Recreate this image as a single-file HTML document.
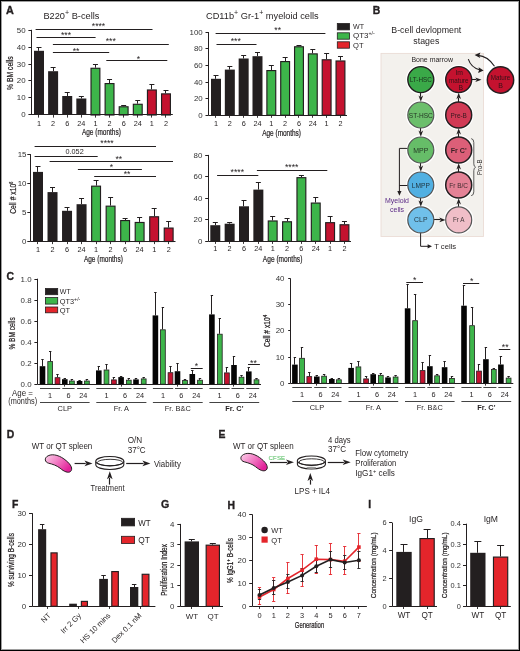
<!DOCTYPE html>
<html><head><meta charset="utf-8"><title>Figure</title>
<style>
html,body{margin:0;padding:0;background:#fff;}
body{width:520px;height:651px;overflow:hidden;}
svg{display:block;font-family:"Liberation Sans", sans-serif;will-change:transform;}
.c{stroke:#231f20;stroke-width:0.22px;}
.pl{stroke:#231f20;stroke-width:0.35px;}
</style></head><body>
<svg width="520" height="651" viewBox="0 0 520 651">
<defs>
<linearGradient id="sg1" x1="0" y1="0" x2="1" y2="0.6"><stop offset="0" stop-color="#fbd3ea"/><stop offset="0.5" stop-color="#f27cc4"/><stop offset="1" stop-color="#e2219a"/></linearGradient>
<linearGradient id="sg2" x1="0" y1="0" x2="1" y2="0.6"><stop offset="0" stop-color="#fbd3ea"/><stop offset="0.5" stop-color="#f27cc4"/><stop offset="1" stop-color="#e2219a"/></linearGradient>
</defs>
<rect x="0" y="0" width="520" height="651" fill="#fff"/>
<g fill="#231f20">
<text x="6.1" y="14.2" font-size="10.8" font-weight="bold" class="pl">A</text>
<line x1="31.5" y1="29.8" x2="31.5" y2="115" stroke="#231f20" stroke-width="1"/>
<line x1="28.4" y1="114.5" x2="31.7" y2="114.5" stroke="#231f20" stroke-width="1"/>
<text x="25.6" y="117.24" font-size="7.9" text-anchor="end" fill="#333">0</text>
<line x1="28.4" y1="97.5" x2="31.7" y2="97.5" stroke="#231f20" stroke-width="1"/>
<text x="25.6" y="100.34" font-size="7.9" text-anchor="end" fill="#333">10</text>
<line x1="28.4" y1="80.5" x2="31.7" y2="80.5" stroke="#231f20" stroke-width="1"/>
<text x="25.6" y="83.44" font-size="7.9" text-anchor="end" fill="#333">20</text>
<line x1="28.4" y1="64.5" x2="31.7" y2="64.5" stroke="#231f20" stroke-width="1"/>
<text x="25.6" y="66.54" font-size="7.9" text-anchor="end" fill="#333">30</text>
<line x1="28.4" y1="47.5" x2="31.7" y2="47.5" stroke="#231f20" stroke-width="1"/>
<text x="25.6" y="49.64" font-size="7.9" text-anchor="end" fill="#333">40</text>
<line x1="28.4" y1="30.5" x2="31.7" y2="30.5" stroke="#231f20" stroke-width="1"/>
<text x="25.6" y="32.74" font-size="7.9" text-anchor="end" fill="#333">50</text>
<line x1="38.5" y1="50.8" x2="38.5" y2="47.5" stroke="#231f20" stroke-width="1"/>
<line x1="36.5" y1="47.5" x2="41.5" y2="47.5" stroke="#231f20" stroke-width="1"/>
<rect x="34" y="50.8" width="10" height="64.2" fill="#231f20"/>
<line x1="38.5" y1="115" x2="38.5" y2="117.6" stroke="#231f20" stroke-width="0.9"/>
<text x="39" y="126.3" font-size="7.3" text-anchor="middle">1</text>
<line x1="53.5" y1="71.2" x2="53.5" y2="67.3" stroke="#231f20" stroke-width="1"/>
<line x1="50.61" y1="67.5" x2="55.61" y2="67.5" stroke="#231f20" stroke-width="1"/>
<rect x="48.11" y="71.2" width="10" height="43.8" fill="#231f20"/>
<line x1="53.5" y1="115" x2="53.5" y2="117.6" stroke="#231f20" stroke-width="0.9"/>
<text x="53.11" y="126.3" font-size="7.3" text-anchor="middle">2</text>
<line x1="67.5" y1="96" x2="67.5" y2="92.3" stroke="#231f20" stroke-width="1"/>
<line x1="64.72" y1="92.5" x2="69.72" y2="92.5" stroke="#231f20" stroke-width="1"/>
<rect x="62.22" y="96" width="10" height="19" fill="#231f20"/>
<line x1="67.5" y1="115" x2="67.5" y2="117.6" stroke="#231f20" stroke-width="0.9"/>
<text x="67.22" y="126.3" font-size="7.3" text-anchor="middle">6</text>
<line x1="81.5" y1="98.5" x2="81.5" y2="96.2" stroke="#231f20" stroke-width="1"/>
<line x1="78.83" y1="96.5" x2="83.83" y2="96.5" stroke="#231f20" stroke-width="1"/>
<rect x="76.33" y="98.5" width="10" height="16.5" fill="#231f20"/>
<line x1="81.5" y1="115" x2="81.5" y2="117.6" stroke="#231f20" stroke-width="0.9"/>
<text x="81.33" y="126.3" font-size="7.3" text-anchor="middle">24</text>
<line x1="95.5" y1="67.7" x2="95.5" y2="64.4" stroke="#231f20" stroke-width="1"/>
<line x1="92.94" y1="64.5" x2="97.94" y2="64.5" stroke="#231f20" stroke-width="1"/>
<rect x="91.02" y="68.28" width="8.85" height="46.72" fill="#3db54a" stroke="#231f20" stroke-width="1.15"/>
<line x1="95.5" y1="115" x2="95.5" y2="117.6" stroke="#231f20" stroke-width="0.9"/>
<text x="95.44" y="126.3" font-size="7.3" text-anchor="middle">1</text>
<line x1="109.5" y1="83" x2="109.5" y2="79.2" stroke="#231f20" stroke-width="1"/>
<line x1="107.05" y1="79.5" x2="112.05" y2="79.5" stroke="#231f20" stroke-width="1"/>
<rect x="105.12" y="83.58" width="8.85" height="31.43" fill="#3db54a" stroke="#231f20" stroke-width="1.15"/>
<line x1="109.5" y1="115" x2="109.5" y2="117.6" stroke="#231f20" stroke-width="0.9"/>
<text x="109.55" y="126.3" font-size="7.3" text-anchor="middle">2</text>
<line x1="123.5" y1="106.2" x2="123.5" y2="105.6" stroke="#231f20" stroke-width="1"/>
<line x1="121.16" y1="105.5" x2="126.16" y2="105.5" stroke="#231f20" stroke-width="1"/>
<rect x="119.23" y="106.78" width="8.85" height="8.22" fill="#3db54a" stroke="#231f20" stroke-width="1.15"/>
<line x1="123.5" y1="115" x2="123.5" y2="117.6" stroke="#231f20" stroke-width="0.9"/>
<text x="123.66" y="126.3" font-size="7.3" text-anchor="middle">6</text>
<line x1="137.5" y1="103.7" x2="137.5" y2="101" stroke="#231f20" stroke-width="1"/>
<line x1="135.27" y1="100.5" x2="140.27" y2="100.5" stroke="#231f20" stroke-width="1"/>
<rect x="133.34" y="104.28" width="8.85" height="10.72" fill="#3db54a" stroke="#231f20" stroke-width="1.15"/>
<line x1="137.5" y1="115" x2="137.5" y2="117.6" stroke="#231f20" stroke-width="0.9"/>
<text x="137.77" y="126.3" font-size="7.3" text-anchor="middle">24</text>
<line x1="151.5" y1="89.4" x2="151.5" y2="85" stroke="#231f20" stroke-width="1"/>
<line x1="149.38" y1="84.5" x2="154.38" y2="84.5" stroke="#231f20" stroke-width="1"/>
<rect x="147.45" y="89.98" width="8.85" height="25.02" fill="#c4122f" stroke="#231f20" stroke-width="1.15"/>
<line x1="151.5" y1="115" x2="151.5" y2="117.6" stroke="#231f20" stroke-width="0.9"/>
<text x="151.88" y="126.3" font-size="7.3" text-anchor="middle">1</text>
<line x1="165.5" y1="93.3" x2="165.5" y2="90.4" stroke="#231f20" stroke-width="1"/>
<line x1="163.49" y1="90.5" x2="168.49" y2="90.5" stroke="#231f20" stroke-width="1"/>
<rect x="161.56" y="93.88" width="8.85" height="21.13" fill="#c4122f" stroke="#231f20" stroke-width="1.15"/>
<line x1="165.5" y1="115" x2="165.5" y2="117.6" stroke="#231f20" stroke-width="0.9"/>
<text x="165.99" y="126.3" font-size="7.3" text-anchor="middle">2</text>
<line x1="31.7" y1="114.5" x2="172.8" y2="114.5" stroke="#231f20" stroke-width="1"/>
<text x="101.4" y="135.4" font-size="8.8" text-anchor="middle" textLength="39" lengthAdjust="spacingAndGlyphs" class="c">Age (months)</text>
<line x1="35.6" y1="29.5" x2="152.5" y2="29.5" stroke="#231f20" stroke-width="1"/>
<text x="98.5" y="29.2" font-size="8.7" text-anchor="middle" textLength="13.4" lengthAdjust="spacingAndGlyphs">****</text>
<line x1="36.5" y1="37.5" x2="95.6" y2="37.5" stroke="#231f20" stroke-width="1"/>
<text x="66" y="38.4" font-size="8.7" text-anchor="middle" textLength="10.05" lengthAdjust="spacingAndGlyphs">***</text>
<line x1="52.9" y1="44.5" x2="168.8" y2="44.5" stroke="#231f20" stroke-width="1"/>
<text x="110.8" y="44.2" font-size="8.7" text-anchor="middle" textLength="10.05" lengthAdjust="spacingAndGlyphs">***</text>
<line x1="52.9" y1="52.5" x2="109.2" y2="52.5" stroke="#231f20" stroke-width="1"/>
<text x="76" y="53.8" font-size="8.7" text-anchor="middle" textLength="6.7" lengthAdjust="spacingAndGlyphs">**</text>
<line x1="106.3" y1="60.5" x2="167.3" y2="60.5" stroke="#231f20" stroke-width="1"/>
<text x="138.5" y="61.6" font-size="8.7" text-anchor="middle" textLength="3.35" lengthAdjust="spacingAndGlyphs">*</text>
<text x="43.4" y="18.7" font-size="9.2" textLength="56" lengthAdjust="spacingAndGlyphs">B220<tspan font-size="7" dy="-3.4">+</tspan><tspan dy="3.4"> B-cells</tspan></text>
<text x="12.8" y="73.2" font-size="8.2" text-anchor="middle" textLength="33.5" lengthAdjust="spacingAndGlyphs" transform="rotate(-90 12.8 73.2)" class="c">% BM cells</text>
<line x1="208.5" y1="32" x2="208.5" y2="115.2" stroke="#231f20" stroke-width="1"/>
<line x1="205.5" y1="115.5" x2="208.8" y2="115.5" stroke="#231f20" stroke-width="1"/>
<text x="202.7" y="117.64" font-size="7.9" text-anchor="end" fill="#333">0</text>
<line x1="205.5" y1="98.5" x2="208.8" y2="98.5" stroke="#231f20" stroke-width="1"/>
<text x="202.7" y="101.09" font-size="7.9" text-anchor="end" fill="#333">20</text>
<line x1="205.5" y1="82.5" x2="208.8" y2="82.5" stroke="#231f20" stroke-width="1"/>
<text x="202.7" y="84.54" font-size="7.9" text-anchor="end" fill="#333">40</text>
<line x1="205.5" y1="65.5" x2="208.8" y2="65.5" stroke="#231f20" stroke-width="1"/>
<text x="202.7" y="67.99" font-size="7.9" text-anchor="end" fill="#333">60</text>
<line x1="205.5" y1="48.5" x2="208.8" y2="48.5" stroke="#231f20" stroke-width="1"/>
<text x="202.7" y="51.44" font-size="7.9" text-anchor="end" fill="#333">80</text>
<line x1="205.5" y1="32.5" x2="208.8" y2="32.5" stroke="#231f20" stroke-width="1"/>
<text x="202.7" y="34.89" font-size="7.9" text-anchor="end" fill="#333">100</text>
<line x1="215.5" y1="78.8" x2="215.5" y2="75.8" stroke="#231f20" stroke-width="1"/>
<line x1="213.5" y1="75.5" x2="218.5" y2="75.5" stroke="#231f20" stroke-width="1"/>
<rect x="211" y="78.8" width="10" height="36.4" fill="#231f20"/>
<line x1="215.5" y1="115.2" x2="215.5" y2="117.8" stroke="#231f20" stroke-width="0.9"/>
<text x="216" y="126" font-size="7.3" text-anchor="middle">1</text>
<line x1="229.5" y1="69.6" x2="229.5" y2="66.7" stroke="#231f20" stroke-width="1"/>
<line x1="227.33" y1="66.5" x2="232.33" y2="66.5" stroke="#231f20" stroke-width="1"/>
<rect x="224.83" y="69.6" width="10" height="45.6" fill="#231f20"/>
<line x1="229.5" y1="115.2" x2="229.5" y2="117.8" stroke="#231f20" stroke-width="0.9"/>
<text x="229.83" y="126" font-size="7.3" text-anchor="middle">2</text>
<line x1="243.5" y1="58.5" x2="243.5" y2="55.4" stroke="#231f20" stroke-width="1"/>
<line x1="241.16" y1="55.5" x2="246.16" y2="55.5" stroke="#231f20" stroke-width="1"/>
<rect x="238.66" y="58.5" width="10" height="56.7" fill="#231f20"/>
<line x1="243.5" y1="115.2" x2="243.5" y2="117.8" stroke="#231f20" stroke-width="0.9"/>
<text x="243.66" y="126" font-size="7.3" text-anchor="middle">6</text>
<line x1="257.5" y1="56.2" x2="257.5" y2="52.3" stroke="#231f20" stroke-width="1"/>
<line x1="254.99" y1="52.5" x2="259.99" y2="52.5" stroke="#231f20" stroke-width="1"/>
<rect x="252.49" y="56.2" width="10" height="59" fill="#231f20"/>
<line x1="257.5" y1="115.2" x2="257.5" y2="117.8" stroke="#231f20" stroke-width="0.9"/>
<text x="257.49" y="126" font-size="7.3" text-anchor="middle">24</text>
<line x1="271.5" y1="70" x2="271.5" y2="65.8" stroke="#231f20" stroke-width="1"/>
<line x1="268.82" y1="65.5" x2="273.82" y2="65.5" stroke="#231f20" stroke-width="1"/>
<rect x="266.89" y="70.58" width="8.85" height="44.62" fill="#3db54a" stroke="#231f20" stroke-width="1.15"/>
<line x1="271.5" y1="115.2" x2="271.5" y2="117.8" stroke="#231f20" stroke-width="0.9"/>
<text x="271.32" y="126" font-size="7.3" text-anchor="middle">1</text>
<line x1="285.5" y1="61" x2="285.5" y2="58" stroke="#231f20" stroke-width="1"/>
<line x1="282.65" y1="57.5" x2="287.65" y2="57.5" stroke="#231f20" stroke-width="1"/>
<rect x="280.72" y="61.58" width="8.85" height="53.62" fill="#3db54a" stroke="#231f20" stroke-width="1.15"/>
<line x1="285.5" y1="115.2" x2="285.5" y2="117.8" stroke="#231f20" stroke-width="0.9"/>
<text x="285.15" y="126" font-size="7.3" text-anchor="middle">2</text>
<line x1="298.5" y1="46.2" x2="298.5" y2="45.6" stroke="#231f20" stroke-width="1"/>
<line x1="296.48" y1="45.5" x2="301.48" y2="45.5" stroke="#231f20" stroke-width="1"/>
<rect x="294.56" y="46.78" width="8.85" height="68.42" fill="#3db54a" stroke="#231f20" stroke-width="1.15"/>
<line x1="298.5" y1="115.2" x2="298.5" y2="117.8" stroke="#231f20" stroke-width="0.9"/>
<text x="298.98" y="126" font-size="7.3" text-anchor="middle">6</text>
<line x1="312.5" y1="53.3" x2="312.5" y2="49.4" stroke="#231f20" stroke-width="1"/>
<line x1="310.31" y1="49.5" x2="315.31" y2="49.5" stroke="#231f20" stroke-width="1"/>
<rect x="308.38" y="53.88" width="8.85" height="61.33" fill="#3db54a" stroke="#231f20" stroke-width="1.15"/>
<line x1="312.5" y1="115.2" x2="312.5" y2="117.8" stroke="#231f20" stroke-width="0.9"/>
<text x="312.81" y="126" font-size="7.3" text-anchor="middle">24</text>
<line x1="326.5" y1="59.2" x2="326.5" y2="53.3" stroke="#231f20" stroke-width="1"/>
<line x1="324.14" y1="53.5" x2="329.14" y2="53.5" stroke="#231f20" stroke-width="1"/>
<rect x="322.21" y="59.78" width="8.85" height="55.42" fill="#c4122f" stroke="#231f20" stroke-width="1.15"/>
<line x1="326.5" y1="115.2" x2="326.5" y2="117.8" stroke="#231f20" stroke-width="0.9"/>
<text x="326.64" y="126" font-size="7.3" text-anchor="middle">1</text>
<line x1="340.5" y1="60.4" x2="340.5" y2="56.5" stroke="#231f20" stroke-width="1"/>
<line x1="337.97" y1="56.5" x2="342.97" y2="56.5" stroke="#231f20" stroke-width="1"/>
<rect x="336.05" y="60.98" width="8.85" height="54.23" fill="#c4122f" stroke="#231f20" stroke-width="1.15"/>
<line x1="340.5" y1="115.2" x2="340.5" y2="117.8" stroke="#231f20" stroke-width="0.9"/>
<text x="340.47" y="126" font-size="7.3" text-anchor="middle">2</text>
<line x1="208.8" y1="115.5" x2="347" y2="115.5" stroke="#231f20" stroke-width="1"/>
<text x="281.6" y="136" font-size="8.8" text-anchor="middle" textLength="38.8" lengthAdjust="spacingAndGlyphs" class="c">Age (months)</text>
<line x1="215.6" y1="33.5" x2="325.4" y2="33.5" stroke="#231f20" stroke-width="1"/>
<text x="277.7" y="33.1" font-size="8.7" text-anchor="middle" textLength="6.7" lengthAdjust="spacingAndGlyphs">**</text>
<line x1="216.5" y1="44.5" x2="256.5" y2="44.5" stroke="#231f20" stroke-width="1"/>
<text x="235.8" y="43.8" font-size="8.7" text-anchor="middle" textLength="10.05" lengthAdjust="spacingAndGlyphs">***</text>
<text x="206" y="18.7" font-size="9.2" textLength="112.7" lengthAdjust="spacingAndGlyphs">CD11b<tspan font-size="7" dy="-3.4">+</tspan><tspan dy="3.4"> Gr-1</tspan><tspan font-size="7" dy="-3.4">+</tspan><tspan dy="3.4"> myeloid cells</tspan></text>
<rect x="337.3" y="23.5" width="12.2" height="6.4" fill="#231f20" stroke="#231f20" stroke-width="0.8"/>
<rect x="337.3" y="32.8" width="12.2" height="6.4" fill="#3db54a" stroke="#231f20" stroke-width="0.8"/>
<rect x="337.3" y="41.8" width="12.2" height="6.4" fill="#e4252b" stroke="#231f20" stroke-width="0.8"/>
<text x="353" y="29.3" font-size="8" textLength="11" lengthAdjust="spacingAndGlyphs">WT</text>
<text x="353" y="38.4" font-size="8">QT3<tspan font-size="5.2" dy="-3">+/-</tspan></text>
<text x="353" y="47.5" font-size="8" textLength="10.5" lengthAdjust="spacingAndGlyphs">QT</text>
<line x1="30.5" y1="154.1" x2="30.5" y2="241.5" stroke="#231f20" stroke-width="1"/>
<line x1="27.3" y1="241.5" x2="30.6" y2="241.5" stroke="#231f20" stroke-width="1"/>
<text x="26.5" y="243.94" font-size="7.9" text-anchor="end" fill="#333">0</text>
<line x1="27.3" y1="212.5" x2="30.6" y2="212.5" stroke="#231f20" stroke-width="1"/>
<text x="26.5" y="214.84" font-size="7.9" text-anchor="end" fill="#333">5</text>
<line x1="27.3" y1="183.5" x2="30.6" y2="183.5" stroke="#231f20" stroke-width="1"/>
<text x="26.5" y="185.74" font-size="7.9" text-anchor="end" fill="#333">10</text>
<line x1="27.3" y1="154.5" x2="30.6" y2="154.5" stroke="#231f20" stroke-width="1"/>
<text x="26.5" y="156.64" font-size="7.9" text-anchor="end" fill="#333">15</text>
<line x1="37.5" y1="171.9" x2="37.5" y2="166.5" stroke="#231f20" stroke-width="1"/>
<line x1="35.5" y1="166.5" x2="40.5" y2="166.5" stroke="#231f20" stroke-width="1"/>
<rect x="33" y="171.9" width="10" height="69.6" fill="#231f20"/>
<line x1="37.5" y1="241.5" x2="37.5" y2="244.1" stroke="#231f20" stroke-width="0.9"/>
<text x="38" y="252" font-size="7.3" text-anchor="middle">1</text>
<line x1="52.5" y1="192.1" x2="52.5" y2="187.3" stroke="#231f20" stroke-width="1"/>
<line x1="50.02" y1="187.5" x2="55.02" y2="187.5" stroke="#231f20" stroke-width="1"/>
<rect x="47.52" y="192.1" width="10" height="49.4" fill="#231f20"/>
<line x1="52.5" y1="241.5" x2="52.5" y2="244.1" stroke="#231f20" stroke-width="0.9"/>
<text x="52.52" y="252" font-size="7.3" text-anchor="middle">2</text>
<line x1="67.5" y1="210.8" x2="67.5" y2="207.9" stroke="#231f20" stroke-width="1"/>
<line x1="64.54" y1="207.5" x2="69.54" y2="207.5" stroke="#231f20" stroke-width="1"/>
<rect x="62.04" y="210.8" width="10" height="30.7" fill="#231f20"/>
<line x1="67.5" y1="241.5" x2="67.5" y2="244.1" stroke="#231f20" stroke-width="0.9"/>
<text x="67.04" y="252" font-size="7.3" text-anchor="middle">6</text>
<line x1="81.5" y1="204.2" x2="81.5" y2="198.5" stroke="#231f20" stroke-width="1"/>
<line x1="79.06" y1="198.5" x2="84.06" y2="198.5" stroke="#231f20" stroke-width="1"/>
<rect x="76.56" y="204.2" width="10" height="37.3" fill="#231f20"/>
<line x1="81.5" y1="241.5" x2="81.5" y2="244.1" stroke="#231f20" stroke-width="0.9"/>
<text x="81.56" y="252" font-size="7.3" text-anchor="middle">24</text>
<line x1="96.5" y1="185.6" x2="96.5" y2="180.4" stroke="#231f20" stroke-width="1"/>
<line x1="93.58" y1="180.5" x2="98.58" y2="180.5" stroke="#231f20" stroke-width="1"/>
<rect x="91.66" y="186.17" width="8.85" height="55.33" fill="#3db54a" stroke="#231f20" stroke-width="1.15"/>
<line x1="96.5" y1="241.5" x2="96.5" y2="244.1" stroke="#231f20" stroke-width="0.9"/>
<text x="96.08" y="252" font-size="7.3" text-anchor="middle">1</text>
<line x1="110.5" y1="205.6" x2="110.5" y2="197.9" stroke="#231f20" stroke-width="1"/>
<line x1="108.1" y1="197.5" x2="113.1" y2="197.5" stroke="#231f20" stroke-width="1"/>
<rect x="106.17" y="206.17" width="8.85" height="35.33" fill="#3db54a" stroke="#231f20" stroke-width="1.15"/>
<line x1="110.5" y1="241.5" x2="110.5" y2="244.1" stroke="#231f20" stroke-width="0.9"/>
<text x="110.6" y="252" font-size="7.3" text-anchor="middle">2</text>
<line x1="125.5" y1="220" x2="125.5" y2="219" stroke="#231f20" stroke-width="1"/>
<line x1="122.62" y1="218.5" x2="127.62" y2="218.5" stroke="#231f20" stroke-width="1"/>
<rect x="120.7" y="220.57" width="8.85" height="20.93" fill="#3db54a" stroke="#231f20" stroke-width="1.15"/>
<line x1="125.5" y1="241.5" x2="125.5" y2="244.1" stroke="#231f20" stroke-width="0.9"/>
<text x="125.12" y="252" font-size="7.3" text-anchor="middle">6</text>
<line x1="139.5" y1="221.9" x2="139.5" y2="217.5" stroke="#231f20" stroke-width="1"/>
<line x1="137.14" y1="217.5" x2="142.14" y2="217.5" stroke="#231f20" stroke-width="1"/>
<rect x="135.21" y="222.47" width="8.85" height="19.02" fill="#3db54a" stroke="#231f20" stroke-width="1.15"/>
<line x1="139.5" y1="241.5" x2="139.5" y2="244.1" stroke="#231f20" stroke-width="0.9"/>
<text x="139.64" y="252" font-size="7.3" text-anchor="middle">24</text>
<line x1="154.5" y1="216.2" x2="154.5" y2="208.5" stroke="#231f20" stroke-width="1"/>
<line x1="151.66" y1="208.5" x2="156.66" y2="208.5" stroke="#231f20" stroke-width="1"/>
<rect x="149.73" y="216.77" width="8.85" height="24.73" fill="#c4122f" stroke="#231f20" stroke-width="1.15"/>
<line x1="154.5" y1="241.5" x2="154.5" y2="244.1" stroke="#231f20" stroke-width="0.9"/>
<text x="154.16" y="252" font-size="7.3" text-anchor="middle">1</text>
<line x1="168.5" y1="227.5" x2="168.5" y2="222" stroke="#231f20" stroke-width="1"/>
<line x1="166.18" y1="221.5" x2="171.18" y2="221.5" stroke="#231f20" stroke-width="1"/>
<rect x="164.25" y="228.07" width="8.85" height="13.43" fill="#c4122f" stroke="#231f20" stroke-width="1.15"/>
<line x1="168.5" y1="241.5" x2="168.5" y2="244.1" stroke="#231f20" stroke-width="0.9"/>
<text x="168.68" y="252" font-size="7.3" text-anchor="middle">2</text>
<line x1="30.6" y1="241.5" x2="175.5" y2="241.5" stroke="#231f20" stroke-width="1"/>
<text x="103.4" y="262.4" font-size="8.8" text-anchor="middle" textLength="39" lengthAdjust="spacingAndGlyphs" class="c">Age (months)</text>
<line x1="34.6" y1="146.5" x2="156" y2="146.5" stroke="#231f20" stroke-width="1"/>
<text x="107" y="146.3" font-size="8.7" text-anchor="middle" textLength="13.4" lengthAdjust="spacingAndGlyphs">****</text>
<line x1="34.6" y1="156.5" x2="97.7" y2="156.5" stroke="#231f20" stroke-width="1"/>
<text x="74.6" y="154.3" font-size="7.6" text-anchor="middle" textLength="18.2" lengthAdjust="spacingAndGlyphs">0.052</text>
<line x1="49.6" y1="161.5" x2="173" y2="161.5" stroke="#231f20" stroke-width="1"/>
<text x="118.8" y="161.8" font-size="8.7" text-anchor="middle" textLength="6.7" lengthAdjust="spacingAndGlyphs">**</text>
<line x1="77.9" y1="169.5" x2="141.9" y2="169.5" stroke="#231f20" stroke-width="1"/>
<text x="111.5" y="169.5" font-size="8.7" text-anchor="middle" textLength="3.35" lengthAdjust="spacingAndGlyphs">*</text>
<line x1="94.2" y1="176.5" x2="156" y2="176.5" stroke="#231f20" stroke-width="1"/>
<text x="127.1" y="177" font-size="8.7" text-anchor="middle" textLength="6.7" lengthAdjust="spacingAndGlyphs">**</text>
<text class="c" x="16" y="197.6" font-size="8.6" text-anchor="middle" transform="rotate(-90 16 197.6)" textLength="32.3" lengthAdjust="spacingAndGlyphs">Cell # x10<tspan font-size="5.6" dy="-3.4">6</tspan></text>
<line x1="208.5" y1="154.9" x2="208.5" y2="241.3" stroke="#231f20" stroke-width="1"/>
<line x1="205.2" y1="241.5" x2="208.5" y2="241.5" stroke="#231f20" stroke-width="1"/>
<text x="202.4" y="243.74" font-size="7.9" text-anchor="end" fill="#333">0</text>
<line x1="205.2" y1="219.5" x2="208.5" y2="219.5" stroke="#231f20" stroke-width="1"/>
<text x="202.4" y="222.24" font-size="7.9" text-anchor="end" fill="#333">20</text>
<line x1="205.2" y1="198.5" x2="208.5" y2="198.5" stroke="#231f20" stroke-width="1"/>
<text x="202.4" y="200.74" font-size="7.9" text-anchor="end" fill="#333">40</text>
<line x1="205.2" y1="176.5" x2="208.5" y2="176.5" stroke="#231f20" stroke-width="1"/>
<text x="202.4" y="179.24" font-size="7.9" text-anchor="end" fill="#333">60</text>
<line x1="205.2" y1="155.5" x2="208.5" y2="155.5" stroke="#231f20" stroke-width="1"/>
<text x="202.4" y="157.74" font-size="7.9" text-anchor="end" fill="#333">80</text>
<line x1="215.5" y1="225.2" x2="215.5" y2="222.3" stroke="#231f20" stroke-width="1"/>
<line x1="212.8" y1="222.5" x2="217.8" y2="222.5" stroke="#231f20" stroke-width="1"/>
<rect x="210.3" y="225.2" width="10" height="16.1" fill="#231f20"/>
<line x1="215.5" y1="241.3" x2="215.5" y2="243.9" stroke="#231f20" stroke-width="0.9"/>
<text x="215.3" y="251.2" font-size="7.3" text-anchor="middle">1</text>
<line x1="229.5" y1="223.7" x2="229.5" y2="222.3" stroke="#231f20" stroke-width="1"/>
<line x1="227.15" y1="222.5" x2="232.15" y2="222.5" stroke="#231f20" stroke-width="1"/>
<rect x="224.65" y="223.7" width="10" height="17.6" fill="#231f20"/>
<line x1="229.5" y1="241.3" x2="229.5" y2="243.9" stroke="#231f20" stroke-width="0.9"/>
<text x="229.65" y="251.2" font-size="7.3" text-anchor="middle">2</text>
<line x1="243.5" y1="206.3" x2="243.5" y2="200.4" stroke="#231f20" stroke-width="1"/>
<line x1="241.5" y1="200.5" x2="246.5" y2="200.5" stroke="#231f20" stroke-width="1"/>
<rect x="239" y="206.3" width="10" height="35" fill="#231f20"/>
<line x1="243.5" y1="241.3" x2="243.5" y2="243.9" stroke="#231f20" stroke-width="0.9"/>
<text x="244" y="251.2" font-size="7.3" text-anchor="middle">6</text>
<line x1="258.5" y1="189.6" x2="258.5" y2="182.3" stroke="#231f20" stroke-width="1"/>
<line x1="255.85" y1="182.5" x2="260.85" y2="182.5" stroke="#231f20" stroke-width="1"/>
<rect x="253.35" y="189.6" width="10" height="51.7" fill="#231f20"/>
<line x1="258.5" y1="241.3" x2="258.5" y2="243.9" stroke="#231f20" stroke-width="0.9"/>
<text x="258.35" y="251.2" font-size="7.3" text-anchor="middle">24</text>
<line x1="272.5" y1="220.4" x2="272.5" y2="216.4" stroke="#231f20" stroke-width="1"/>
<line x1="270.2" y1="216.5" x2="275.2" y2="216.5" stroke="#231f20" stroke-width="1"/>
<rect x="268.27" y="220.97" width="8.85" height="20.33" fill="#3db54a" stroke="#231f20" stroke-width="1.15"/>
<line x1="272.5" y1="241.3" x2="272.5" y2="243.9" stroke="#231f20" stroke-width="0.9"/>
<text x="272.7" y="251.2" font-size="7.3" text-anchor="middle">1</text>
<line x1="287.5" y1="221.2" x2="287.5" y2="218.5" stroke="#231f20" stroke-width="1"/>
<line x1="284.55" y1="218.5" x2="289.55" y2="218.5" stroke="#231f20" stroke-width="1"/>
<rect x="282.62" y="221.77" width="8.85" height="19.53" fill="#3db54a" stroke="#231f20" stroke-width="1.15"/>
<line x1="287.5" y1="241.3" x2="287.5" y2="243.9" stroke="#231f20" stroke-width="0.9"/>
<text x="287.05" y="251.2" font-size="7.3" text-anchor="middle">2</text>
<line x1="301.5" y1="177.1" x2="301.5" y2="175.2" stroke="#231f20" stroke-width="1"/>
<line x1="298.9" y1="175.5" x2="303.9" y2="175.5" stroke="#231f20" stroke-width="1"/>
<rect x="296.97" y="177.67" width="8.85" height="63.63" fill="#3db54a" stroke="#231f20" stroke-width="1.15"/>
<line x1="301.5" y1="241.3" x2="301.5" y2="243.9" stroke="#231f20" stroke-width="0.9"/>
<text x="301.4" y="251.2" font-size="7.3" text-anchor="middle">6</text>
<line x1="315.5" y1="202.5" x2="315.5" y2="198" stroke="#231f20" stroke-width="1"/>
<line x1="313.25" y1="197.5" x2="318.25" y2="197.5" stroke="#231f20" stroke-width="1"/>
<rect x="311.32" y="203.07" width="8.85" height="38.23" fill="#3db54a" stroke="#231f20" stroke-width="1.15"/>
<line x1="315.5" y1="241.3" x2="315.5" y2="243.9" stroke="#231f20" stroke-width="0.9"/>
<text x="315.75" y="251.2" font-size="7.3" text-anchor="middle">24</text>
<line x1="330.5" y1="222.1" x2="330.5" y2="216.9" stroke="#231f20" stroke-width="1"/>
<line x1="327.6" y1="216.5" x2="332.6" y2="216.5" stroke="#231f20" stroke-width="1"/>
<rect x="325.68" y="222.67" width="8.85" height="18.63" fill="#c4122f" stroke="#231f20" stroke-width="1.15"/>
<line x1="330.5" y1="241.3" x2="330.5" y2="243.9" stroke="#231f20" stroke-width="0.9"/>
<text x="330.1" y="251.2" font-size="7.3" text-anchor="middle">1</text>
<line x1="344.5" y1="224.2" x2="344.5" y2="221.3" stroke="#231f20" stroke-width="1"/>
<line x1="341.95" y1="221.5" x2="346.95" y2="221.5" stroke="#231f20" stroke-width="1"/>
<rect x="340.03" y="224.77" width="8.85" height="16.53" fill="#c4122f" stroke="#231f20" stroke-width="1.15"/>
<line x1="344.5" y1="241.3" x2="344.5" y2="243.9" stroke="#231f20" stroke-width="0.9"/>
<text x="344.45" y="251.2" font-size="7.3" text-anchor="middle">2</text>
<line x1="208.5" y1="241.5" x2="351" y2="241.5" stroke="#231f20" stroke-width="1"/>
<text x="282.6" y="261.5" font-size="8.8" text-anchor="middle" textLength="39.5" lengthAdjust="spacingAndGlyphs" class="c">Age (months)</text>
<line x1="217.1" y1="175.5" x2="258.3" y2="175.5" stroke="#231f20" stroke-width="1"/>
<text x="237.3" y="175.1" font-size="8.7" text-anchor="middle" textLength="13.4" lengthAdjust="spacingAndGlyphs">****</text>
<line x1="256.9" y1="170.5" x2="327.3" y2="170.5" stroke="#231f20" stroke-width="1"/>
<text x="291.7" y="170" font-size="8.7" text-anchor="middle" textLength="13.4" lengthAdjust="spacingAndGlyphs">****</text>
<text x="372.8" y="14.4" font-size="10.4" font-weight="bold" class="pl">B</text>
<text x="426.3" y="32.8" font-size="9.2" text-anchor="middle" textLength="70" lengthAdjust="spacingAndGlyphs">B-cell devlopment</text>
<text x="426.3" y="43.8" font-size="9.2" text-anchor="middle" textLength="26" lengthAdjust="spacingAndGlyphs">stages</text>
<rect x="381" y="53.4" width="102.5" height="183.1" fill="#f3f1ed" stroke="#eadcd5" stroke-width="0.9"/>
<text x="432.2" y="61.6" font-size="7.2" text-anchor="middle" textLength="41.5" lengthAdjust="spacingAndGlyphs">Bone marrow</text>
<circle cx="420.8" cy="79.6" r="14.9" fill="#fff"/>
<circle cx="420.8" cy="115" r="14.9" fill="#fff"/>
<circle cx="420.8" cy="150" r="14.9" fill="#fff"/>
<circle cx="420.8" cy="185" r="14.9" fill="#fff"/>
<circle cx="420.8" cy="219.9" r="14.9" fill="#fff"/>
<circle cx="458.7" cy="79.6" r="14.9" fill="#fff"/>
<circle cx="458.7" cy="115" r="14.9" fill="#fff"/>
<circle cx="458.7" cy="150" r="14.9" fill="#fff"/>
<circle cx="458.7" cy="185" r="14.9" fill="#fff"/>
<circle cx="458.7" cy="219.9" r="14.9" fill="#fff"/>
<circle cx="500.5" cy="80" r="14.9" fill="#fff"/>
<line x1="420.5" y1="92.6" x2="420.5" y2="96.8" stroke="#231f20" stroke-width="1.1"/>
<polygon points="420.8,101.8 418.5,95.6 420.8,97.15 423.1,95.6" fill="#231f20"/>
<line x1="420.5" y1="128" x2="420.5" y2="131.8" stroke="#231f20" stroke-width="1.1"/>
<polygon points="420.8,136.8 418.5,130.6 420.8,132.15 423.1,130.6" fill="#231f20"/>
<line x1="420.5" y1="163" x2="420.5" y2="166.8" stroke="#231f20" stroke-width="1.1"/>
<polygon points="420.8,171.8 418.5,165.6 420.8,167.15 423.1,165.6" fill="#231f20"/>
<line x1="420.5" y1="198" x2="420.5" y2="201.7" stroke="#231f20" stroke-width="1.1"/>
<polygon points="420.8,206.7 418.5,200.5 420.8,202.05 423.1,200.5" fill="#231f20"/>
<line x1="458.5" y1="206.9" x2="458.5" y2="203.2" stroke="#231f20" stroke-width="1.1"/>
<polygon points="458.7,198.2 461,204.4 458.7,202.85 456.4,204.4" fill="#231f20"/>
<line x1="458.5" y1="172" x2="458.5" y2="168.2" stroke="#231f20" stroke-width="1.1"/>
<polygon points="458.7,163.2 461,169.4 458.7,167.85 456.4,169.4" fill="#231f20"/>
<line x1="458.5" y1="137" x2="458.5" y2="133.2" stroke="#231f20" stroke-width="1.1"/>
<polygon points="458.7,128.2 461,134.4 458.7,132.85 456.4,134.4" fill="#231f20"/>
<line x1="458.5" y1="102" x2="458.5" y2="97.8" stroke="#231f20" stroke-width="1.1"/>
<polygon points="458.7,92.8 461,99 458.7,97.45 456.4,99" fill="#231f20"/>
<line x1="433.8" y1="219.5" x2="440.5" y2="219.5" stroke="#231f20" stroke-width="1.1"/>
<polygon points="445.5,219.9 439.3,222.2 440.85,219.9 439.3,217.6" fill="#231f20"/>
<line x1="471.7" y1="79.5" x2="476.5" y2="79.5" stroke="#231f20" stroke-width="1.1"/>
<polygon points="481.5,79.8 475.3,82.1 476.85,79.8 475.3,77.5" fill="#231f20"/>
<path d="M494.5,66.2 Q487.5,56 478,55.4" fill="none" stroke="#231f20" stroke-width="1.1"/>
<polygon points="474.6,55.1 480.4,52.6 479.2,55.4 480.2,58" fill="#231f20"/>
<path d="M468.3,59.2 Q471,67.5 479.5,69.8" fill="none" stroke="#231f20" stroke-width="1.1"/>
<polygon points="483.6,70.6 478,72.9 479.1,70.1 478.6,67.3" fill="#231f20"/>
<polyline points="407.6,148.4 399.4,148.4 399.4,191" fill="none" stroke="#231f20" stroke-width="1"/>
<line x1="399.4" y1="185.5" x2="407.6" y2="185.5" stroke="#231f20" stroke-width="1"/>
<polygon points="399.4,195.8 397.3,191 401.5,191" fill="#231f20"/>
<text x="397" y="203.4" font-size="6.6" text-anchor="middle" textLength="24" lengthAdjust="spacingAndGlyphs" fill="#5b2a86">Myeloid</text>
<text x="397" y="211.8" font-size="6.6" text-anchor="middle" textLength="14" lengthAdjust="spacingAndGlyphs" fill="#5b2a86">cells</text>
<polyline points="420.6,232.9 420.6,246.3 428,246.3" fill="none" stroke="#231f20" stroke-width="1"/>
<polygon points="432,246.3 427.6,244.2 427.6,248.4" fill="#231f20"/>
<text x="434.2" y="249.3" font-size="8" textLength="22" lengthAdjust="spacingAndGlyphs">T cells</text>
<path d="M471.2,138.6 Q473.8,138.9 473.8,142.5 L473.8,163.8 Q473.8,166.6 475.6,167.2 Q473.8,167.8 473.8,170.6 L473.8,191.8 Q473.8,195.4 471.2,195.7" fill="none" stroke="#333" stroke-width="0.8"/>
<text x="481.6" y="167.2" font-size="7" text-anchor="middle" transform="rotate(-90 481.6 167.2)" textLength="15.6" lengthAdjust="spacingAndGlyphs">Pro-B</text>
<circle cx="420.8" cy="79.6" r="13" fill="#3aa948" stroke="#231f20" stroke-width="1.4"/>
<text x="420.8" y="82.12" font-size="7" text-anchor="middle" textLength="22" lengthAdjust="spacingAndGlyphs" fill="#111" style="fill-opacity:0.8">LT-HSC</text>
<circle cx="420.8" cy="115" r="13" fill="#6cbf6c" stroke="#555" stroke-width="1.2"/>
<text x="420.8" y="117.52" font-size="7" text-anchor="middle" textLength="24" lengthAdjust="spacingAndGlyphs" fill="#111" style="fill-opacity:0.8">ST-HSC</text>
<circle cx="420.8" cy="150" r="13" fill="#66bd68" stroke="#555" stroke-width="1.2"/>
<text x="420.8" y="152.52" font-size="7" text-anchor="middle" textLength="15" lengthAdjust="spacingAndGlyphs" fill="#111" style="fill-opacity:0.8">MPP</text>
<circle cx="420.8" cy="185" r="13" fill="#52b0e2" stroke="#555" stroke-width="1.2"/>
<text x="420.8" y="187.52" font-size="7" text-anchor="middle" textLength="18" lengthAdjust="spacingAndGlyphs" fill="#111" style="fill-opacity:0.8">LMPP</text>
<circle cx="420.8" cy="219.9" r="13" fill="#70c0ea" stroke="#555" stroke-width="1.2"/>
<text x="420.8" y="222.42" font-size="7" text-anchor="middle" textLength="13.4" lengthAdjust="spacingAndGlyphs" fill="#111" style="fill-opacity:0.8">CLP</text>
<circle cx="458.7" cy="79.6" r="13" fill="#c4122f" stroke="#231f20" stroke-width="1.45"/>
<text x="459.2" y="74.85" font-size="6.8" text-anchor="middle" fill="#111" style="fill-opacity:0.8">Im</text>
<text x="458.7" y="82.65" font-size="6.8" text-anchor="middle" textLength="19.5" lengthAdjust="spacingAndGlyphs" fill="#111" style="fill-opacity:0.8">mature</text>
<text x="460.7" y="90.45" font-size="6.8" text-anchor="middle" fill="#111" style="fill-opacity:0.8">B</text>
<circle cx="458.7" cy="115" r="13" fill="#d13a55" stroke="#231f20" stroke-width="1.45"/>
<text x="458.7" y="117.52" font-size="7" text-anchor="middle" textLength="16.4" lengthAdjust="spacingAndGlyphs" fill="#111" style="fill-opacity:0.8">Pre-B</text>
<circle cx="458.7" cy="150" r="13" fill="#dc5f78" stroke="#231f20" stroke-width="1.5"/>
<text x="458.7" y="152.52" font-size="7" text-anchor="middle" textLength="16" lengthAdjust="spacingAndGlyphs" font-weight="bold" fill="#111" style="fill-opacity:0.8">Fr C'</text>
<circle cx="458.7" cy="185" r="13" fill="#e48296" stroke="#231f20" stroke-width="1.5"/>
<text x="458.7" y="187.52" font-size="7" text-anchor="middle" textLength="18.7" lengthAdjust="spacingAndGlyphs" fill="#111" style="fill-opacity:0.8">Fr B/C</text>
<circle cx="458.7" cy="219.9" r="13" fill="#f0bec8" stroke="#555" stroke-width="1.2"/>
<text x="458.7" y="222.42" font-size="7" text-anchor="middle" textLength="11.5" lengthAdjust="spacingAndGlyphs" fill="#111" style="fill-opacity:0.8">Fr A</text>
<circle cx="500.5" cy="80" r="13.2" fill="#c4122f" stroke="#231f20" stroke-width="1.45"/>
<text x="500.5" y="80.12" font-size="7" text-anchor="middle" textLength="19.6" lengthAdjust="spacingAndGlyphs" fill="#111" style="fill-opacity:0.8">Mature</text>
<text x="500.5" y="87.72" font-size="7" text-anchor="middle" fill="#111" style="fill-opacity:0.8">B</text>
<text x="6.6" y="279.6" font-size="10.4" font-weight="bold" class="pl">C</text>
<line x1="37.5" y1="278.7" x2="37.5" y2="384.2" stroke="#231f20" stroke-width="1"/>
<line x1="34.4" y1="384.5" x2="37.7" y2="384.5" stroke="#231f20" stroke-width="1"/>
<text x="31.6" y="386.64" font-size="7.9" text-anchor="end" fill="#333">0.0</text>
<line x1="34.4" y1="363.5" x2="37.7" y2="363.5" stroke="#231f20" stroke-width="1"/>
<text x="31.6" y="365.64" font-size="7.9" text-anchor="end" fill="#333">0.2</text>
<line x1="34.4" y1="342.5" x2="37.7" y2="342.5" stroke="#231f20" stroke-width="1"/>
<text x="31.6" y="344.64" font-size="7.9" text-anchor="end" fill="#333">0.4</text>
<line x1="34.4" y1="321.5" x2="37.7" y2="321.5" stroke="#231f20" stroke-width="1"/>
<text x="31.6" y="323.64" font-size="7.9" text-anchor="end" fill="#333">0.6</text>
<line x1="34.4" y1="300.5" x2="37.7" y2="300.5" stroke="#231f20" stroke-width="1"/>
<text x="31.6" y="302.64" font-size="7.9" text-anchor="end" fill="#333">0.8</text>
<line x1="34.4" y1="279.5" x2="37.7" y2="279.5" stroke="#231f20" stroke-width="1"/>
<text x="31.6" y="281.64" font-size="7.9" text-anchor="end" fill="#333">1.0</text>
<line x1="37.7" y1="384.5" x2="261" y2="384.5" stroke="#231f20" stroke-width="1"/>
<line x1="42.5" y1="366.2" x2="42.5" y2="359.8" stroke="#231f20" stroke-width="1"/>
<line x1="41.3" y1="359.5" x2="43.7" y2="359.5" stroke="#231f20" stroke-width="1"/>
<rect x="39.7" y="366.2" width="5.6" height="18" fill="#050505"/>
<line x1="50.5" y1="361.2" x2="50.5" y2="351.5" stroke="#231f20" stroke-width="1"/>
<line x1="49" y1="351.5" x2="51.4" y2="351.5" stroke="#231f20" stroke-width="1"/>
<rect x="47.8" y="361.6" width="4.8" height="22.6" fill="#3db54a" stroke="#231f20" stroke-width="0.8"/>
<line x1="57.5" y1="377.3" x2="57.5" y2="374.6" stroke="#231f20" stroke-width="1"/>
<line x1="56.3" y1="374.5" x2="58.7" y2="374.5" stroke="#231f20" stroke-width="1"/>
<rect x="55.1" y="377.7" width="4.8" height="6.5" fill="#c4122f" stroke="#231f20" stroke-width="0.8"/>
<line x1="64.5" y1="379.2" x2="64.5" y2="378.3" stroke="#231f20" stroke-width="1"/>
<line x1="63.6" y1="378.5" x2="66" y2="378.5" stroke="#231f20" stroke-width="1"/>
<rect x="62" y="379.2" width="5.6" height="5" fill="#050505"/>
<line x1="71.5" y1="380.6" x2="71.5" y2="379.7" stroke="#231f20" stroke-width="1"/>
<line x1="70.7" y1="379.5" x2="73.1" y2="379.5" stroke="#231f20" stroke-width="1"/>
<rect x="69.5" y="381" width="4.8" height="3.2" fill="#3db54a" stroke="#231f20" stroke-width="0.8"/>
<line x1="79.5" y1="381" x2="79.5" y2="380.1" stroke="#231f20" stroke-width="1"/>
<line x1="78.4" y1="380.5" x2="80.8" y2="380.5" stroke="#231f20" stroke-width="1"/>
<rect x="76.8" y="381" width="5.6" height="3.2" fill="#050505"/>
<line x1="86.5" y1="380.6" x2="86.5" y2="379.7" stroke="#231f20" stroke-width="1"/>
<line x1="85.7" y1="379.5" x2="88.1" y2="379.5" stroke="#231f20" stroke-width="1"/>
<rect x="84.5" y="381" width="4.8" height="3.2" fill="#3db54a" stroke="#231f20" stroke-width="0.8"/>
<line x1="40" y1="388.5" x2="60.2" y2="388.5" stroke="#444" stroke-width="1"/>
<text x="50.1" y="398" font-size="7.3" text-anchor="middle">1</text>
<line x1="62.3" y1="388.5" x2="74.6" y2="388.5" stroke="#444" stroke-width="1"/>
<text x="68.45" y="398" font-size="7.3" text-anchor="middle">6</text>
<line x1="77.1" y1="388.5" x2="89.6" y2="388.5" stroke="#444" stroke-width="1"/>
<text x="83.35" y="398" font-size="7.3" text-anchor="middle">24</text>
<line x1="40" y1="402.5" x2="89.6" y2="402.5" stroke="#444" stroke-width="1"/>
<line x1="64.5" y1="384.2" x2="64.5" y2="386.6" stroke="#231f20" stroke-width="0.9"/>
<text x="64.8" y="411" font-size="7.4" text-anchor="middle">CLP</text>
<line x1="98.5" y1="370.4" x2="98.5" y2="366.2" stroke="#231f20" stroke-width="1"/>
<line x1="97.6" y1="366.5" x2="100" y2="366.5" stroke="#231f20" stroke-width="1"/>
<rect x="96" y="370.4" width="5.6" height="13.8" fill="#050505"/>
<line x1="106.5" y1="369.6" x2="106.5" y2="364.6" stroke="#231f20" stroke-width="1"/>
<line x1="105.3" y1="364.5" x2="107.7" y2="364.5" stroke="#231f20" stroke-width="1"/>
<rect x="104.1" y="370" width="4.8" height="14.2" fill="#3db54a" stroke="#231f20" stroke-width="0.8"/>
<line x1="113.5" y1="379.5" x2="113.5" y2="378" stroke="#231f20" stroke-width="1"/>
<line x1="112.7" y1="377.5" x2="115.1" y2="377.5" stroke="#231f20" stroke-width="1"/>
<rect x="111.5" y="379.9" width="4.8" height="4.3" fill="#c4122f" stroke="#231f20" stroke-width="0.8"/>
<line x1="121.5" y1="377.1" x2="121.5" y2="376.2" stroke="#231f20" stroke-width="1"/>
<line x1="119.9" y1="376.5" x2="122.3" y2="376.5" stroke="#231f20" stroke-width="1"/>
<rect x="118.3" y="377.1" width="5.6" height="7.1" fill="#050505"/>
<line x1="128.5" y1="379.8" x2="128.5" y2="378.9" stroke="#231f20" stroke-width="1"/>
<line x1="127.6" y1="378.5" x2="130" y2="378.5" stroke="#231f20" stroke-width="1"/>
<rect x="126.4" y="380.2" width="4.8" height="4" fill="#3db54a" stroke="#231f20" stroke-width="0.8"/>
<line x1="135.5" y1="379.4" x2="135.5" y2="378.5" stroke="#231f20" stroke-width="1"/>
<line x1="134.8" y1="378.5" x2="137.2" y2="378.5" stroke="#231f20" stroke-width="1"/>
<rect x="133.2" y="379.4" width="5.6" height="4.8" fill="#050505"/>
<line x1="143.5" y1="378.5" x2="143.5" y2="377.6" stroke="#231f20" stroke-width="1"/>
<line x1="142.5" y1="377.5" x2="144.9" y2="377.5" stroke="#231f20" stroke-width="1"/>
<rect x="141.3" y="378.9" width="4.8" height="5.3" fill="#3db54a" stroke="#231f20" stroke-width="0.8"/>
<line x1="96.3" y1="388.5" x2="116.6" y2="388.5" stroke="#444" stroke-width="1"/>
<text x="106.45" y="398" font-size="7.3" text-anchor="middle">1</text>
<line x1="118.6" y1="388.5" x2="131.5" y2="388.5" stroke="#444" stroke-width="1"/>
<text x="125.05" y="398" font-size="7.3" text-anchor="middle">6</text>
<line x1="133.5" y1="388.5" x2="146.4" y2="388.5" stroke="#444" stroke-width="1"/>
<text x="139.95" y="398" font-size="7.3" text-anchor="middle">24</text>
<line x1="96.3" y1="402.5" x2="146.4" y2="402.5" stroke="#444" stroke-width="1"/>
<line x1="121.5" y1="384.2" x2="121.5" y2="386.6" stroke="#231f20" stroke-width="0.9"/>
<text x="121.35" y="411" font-size="7.4" text-anchor="middle">Fr. A</text>
<line x1="155.5" y1="315.4" x2="155.5" y2="292.3" stroke="#231f20" stroke-width="1"/>
<line x1="154.2" y1="292.5" x2="156.6" y2="292.5" stroke="#231f20" stroke-width="1"/>
<rect x="152.6" y="315.4" width="5.6" height="68.8" fill="#050505"/>
<line x1="162.5" y1="329.4" x2="162.5" y2="307.3" stroke="#231f20" stroke-width="1"/>
<line x1="161.7" y1="307.5" x2="164.1" y2="307.5" stroke="#231f20" stroke-width="1"/>
<rect x="160.5" y="329.8" width="4.8" height="54.4" fill="#3db54a" stroke="#231f20" stroke-width="0.8"/>
<line x1="170.5" y1="372.3" x2="170.5" y2="366.3" stroke="#231f20" stroke-width="1"/>
<line x1="169.3" y1="366.5" x2="171.7" y2="366.5" stroke="#231f20" stroke-width="1"/>
<rect x="168.1" y="372.7" width="4.8" height="11.5" fill="#c4122f" stroke="#231f20" stroke-width="0.8"/>
<line x1="177.5" y1="371.2" x2="177.5" y2="363.1" stroke="#231f20" stroke-width="1"/>
<line x1="176.3" y1="363.5" x2="178.7" y2="363.5" stroke="#231f20" stroke-width="1"/>
<rect x="174.7" y="371.2" width="5.6" height="13" fill="#050505"/>
<line x1="184.5" y1="380" x2="184.5" y2="379.1" stroke="#231f20" stroke-width="1"/>
<line x1="183.8" y1="379.5" x2="186.2" y2="379.5" stroke="#231f20" stroke-width="1"/>
<rect x="182.6" y="380.4" width="4.8" height="3.8" fill="#3db54a" stroke="#231f20" stroke-width="0.8"/>
<line x1="192.5" y1="374" x2="192.5" y2="370.8" stroke="#231f20" stroke-width="1"/>
<line x1="191.1" y1="370.5" x2="193.5" y2="370.5" stroke="#231f20" stroke-width="1"/>
<rect x="189.5" y="374" width="5.6" height="10.2" fill="#050505"/>
<line x1="199.5" y1="379.8" x2="199.5" y2="378.9" stroke="#231f20" stroke-width="1"/>
<line x1="198.8" y1="378.5" x2="201.2" y2="378.5" stroke="#231f20" stroke-width="1"/>
<rect x="197.6" y="380.2" width="4.8" height="4" fill="#3db54a" stroke="#231f20" stroke-width="0.8"/>
<line x1="152.9" y1="388.5" x2="173.2" y2="388.5" stroke="#444" stroke-width="1"/>
<text x="163.05" y="398" font-size="7.3" text-anchor="middle">1</text>
<line x1="175" y1="388.5" x2="187.7" y2="388.5" stroke="#444" stroke-width="1"/>
<text x="181.35" y="398" font-size="7.3" text-anchor="middle">6</text>
<line x1="189.8" y1="388.5" x2="202.7" y2="388.5" stroke="#444" stroke-width="1"/>
<text x="196.25" y="398" font-size="7.3" text-anchor="middle">24</text>
<line x1="152.9" y1="402.5" x2="202.7" y2="402.5" stroke="#444" stroke-width="1"/>
<line x1="177.5" y1="384.2" x2="177.5" y2="386.6" stroke="#231f20" stroke-width="0.9"/>
<text x="177.8" y="411" font-size="7.4" text-anchor="middle">Fr. B&amp;C</text>
<line x1="211.5" y1="314.4" x2="211.5" y2="295.5" stroke="#231f20" stroke-width="1"/>
<line x1="210.7" y1="295.5" x2="213.1" y2="295.5" stroke="#231f20" stroke-width="1"/>
<rect x="209.1" y="314.4" width="5.6" height="69.8" fill="#050505"/>
<line x1="219.5" y1="333.8" x2="219.5" y2="318.7" stroke="#231f20" stroke-width="1"/>
<line x1="218.6" y1="318.5" x2="221" y2="318.5" stroke="#231f20" stroke-width="1"/>
<rect x="217.4" y="334.2" width="4.8" height="50" fill="#3db54a" stroke="#231f20" stroke-width="0.8"/>
<line x1="226.5" y1="372.5" x2="226.5" y2="367.7" stroke="#231f20" stroke-width="1"/>
<line x1="225.7" y1="367.5" x2="228.1" y2="367.5" stroke="#231f20" stroke-width="1"/>
<rect x="224.5" y="372.9" width="4.8" height="11.3" fill="#c4122f" stroke="#231f20" stroke-width="0.8"/>
<line x1="233.5" y1="365" x2="233.5" y2="356.3" stroke="#231f20" stroke-width="1"/>
<line x1="232.8" y1="356.5" x2="235.2" y2="356.5" stroke="#231f20" stroke-width="1"/>
<rect x="231.2" y="365" width="5.6" height="19.2" fill="#050505"/>
<line x1="241.5" y1="376.8" x2="241.5" y2="375.9" stroke="#231f20" stroke-width="1"/>
<line x1="240.3" y1="375.5" x2="242.7" y2="375.5" stroke="#231f20" stroke-width="1"/>
<rect x="239.1" y="377.2" width="4.8" height="7" fill="#3db54a" stroke="#231f20" stroke-width="0.8"/>
<line x1="248.5" y1="371.4" x2="248.5" y2="367.1" stroke="#231f20" stroke-width="1"/>
<line x1="247.6" y1="367.5" x2="250" y2="367.5" stroke="#231f20" stroke-width="1"/>
<rect x="246" y="371.4" width="5.6" height="12.8" fill="#050505"/>
<line x1="256.5" y1="379.4" x2="256.5" y2="378.5" stroke="#231f20" stroke-width="1"/>
<line x1="255.3" y1="378.5" x2="257.7" y2="378.5" stroke="#231f20" stroke-width="1"/>
<rect x="254.1" y="379.8" width="4.8" height="4.4" fill="#3db54a" stroke="#231f20" stroke-width="0.8"/>
<line x1="209.4" y1="388.5" x2="229.6" y2="388.5" stroke="#444" stroke-width="1"/>
<text x="219.5" y="398" font-size="7.3" text-anchor="middle">1</text>
<line x1="231.5" y1="388.5" x2="244.2" y2="388.5" stroke="#444" stroke-width="1"/>
<text x="237.85" y="398" font-size="7.3" text-anchor="middle">6</text>
<line x1="246.3" y1="388.5" x2="259.2" y2="388.5" stroke="#444" stroke-width="1"/>
<text x="252.75" y="398" font-size="7.3" text-anchor="middle">24</text>
<line x1="209.4" y1="402.5" x2="259.2" y2="402.5" stroke="#444" stroke-width="1"/>
<line x1="233.5" y1="384.2" x2="233.5" y2="386.6" stroke="#231f20" stroke-width="0.9"/>
<text x="234.3" y="411" font-size="7.4" text-anchor="middle" font-weight="bold">Fr. C'</text>
<line x1="190.8" y1="368.5" x2="202.7" y2="368.5" stroke="#231f20" stroke-width="1"/>
<text x="196.5" y="369.4" font-size="8.7" text-anchor="middle" textLength="3.35" lengthAdjust="spacingAndGlyphs">*</text>
<line x1="248" y1="364.5" x2="259.9" y2="364.5" stroke="#231f20" stroke-width="1"/>
<text x="253.4" y="366" font-size="8.7" text-anchor="middle" textLength="6.7" lengthAdjust="spacingAndGlyphs">**</text>
<rect x="45.4" y="288.5" width="12.3" height="6.2" fill="#231f20" stroke="#231f20" stroke-width="0.8"/>
<rect x="45.4" y="297.5" width="12.3" height="6.6" fill="#3db54a" stroke="#231f20" stroke-width="0.8"/>
<rect x="45.4" y="307" width="12.3" height="5.8" fill="#e4252b" stroke="#231f20" stroke-width="0.8"/>
<text x="59.8" y="294" font-size="7.4" textLength="11" lengthAdjust="spacingAndGlyphs">WT</text>
<text x="59.8" y="303.7" font-size="7.4" textLength="20.5" lengthAdjust="spacingAndGlyphs">QT3<tspan font-size="5.2" dy="-3">+/-</tspan></text>
<text x="59.8" y="312.6" font-size="7.4" textLength="10.4" lengthAdjust="spacingAndGlyphs">QT</text>
<text x="15.2" y="333.4" font-size="8.5" text-anchor="middle" textLength="32.2" lengthAdjust="spacingAndGlyphs" transform="rotate(-90 15.2 333.4)" class="c">% BM cells</text>
<text x="22.5" y="395.6" font-size="8.2" text-anchor="middle" textLength="20.8" lengthAdjust="spacingAndGlyphs">Age =</text>
<text x="22.7" y="404.4" font-size="8.2" text-anchor="middle" textLength="28.8" lengthAdjust="spacingAndGlyphs">(months)</text>
<line x1="290.5" y1="278.5" x2="290.5" y2="383.2" stroke="#231f20" stroke-width="1"/>
<line x1="288.2" y1="383.5" x2="290.6" y2="383.5" stroke="#231f20" stroke-width="1"/>
<text x="284.5" y="385.64" font-size="7.9" text-anchor="end" fill="#333">0</text>
<line x1="288.2" y1="357.5" x2="290.6" y2="357.5" stroke="#231f20" stroke-width="1"/>
<text x="284.5" y="359.54" font-size="7.9" text-anchor="end" fill="#333">10</text>
<line x1="288.2" y1="330.5" x2="290.6" y2="330.5" stroke="#231f20" stroke-width="1"/>
<text x="284.5" y="333.44" font-size="7.9" text-anchor="end" fill="#333">20</text>
<line x1="288.2" y1="304.5" x2="290.6" y2="304.5" stroke="#231f20" stroke-width="1"/>
<text x="284.5" y="307.34" font-size="7.9" text-anchor="end" fill="#333">30</text>
<line x1="288.2" y1="278.5" x2="290.6" y2="278.5" stroke="#231f20" stroke-width="1"/>
<text x="284.5" y="281.24" font-size="7.9" text-anchor="end" fill="#333">40</text>
<line x1="290.6" y1="383.5" x2="513.3" y2="383.5" stroke="#231f20" stroke-width="1"/>
<line x1="294.5" y1="364.6" x2="294.5" y2="357.9" stroke="#231f20" stroke-width="1"/>
<line x1="293.7" y1="357.5" x2="296.1" y2="357.5" stroke="#231f20" stroke-width="1"/>
<rect x="292.1" y="364.6" width="5.6" height="18.6" fill="#050505"/>
<line x1="301.5" y1="357.9" x2="301.5" y2="347.3" stroke="#231f20" stroke-width="1"/>
<line x1="300.8" y1="347.5" x2="303.2" y2="347.5" stroke="#231f20" stroke-width="1"/>
<rect x="299.6" y="358.3" width="4.8" height="24.9" fill="#3db54a" stroke="#231f20" stroke-width="0.8"/>
<line x1="309.5" y1="376.2" x2="309.5" y2="372.3" stroke="#231f20" stroke-width="1"/>
<line x1="308.1" y1="372.5" x2="310.5" y2="372.5" stroke="#231f20" stroke-width="1"/>
<rect x="306.9" y="376.6" width="4.8" height="6.6" fill="#c4122f" stroke="#231f20" stroke-width="0.8"/>
<line x1="316.5" y1="376.5" x2="316.5" y2="375.6" stroke="#231f20" stroke-width="1"/>
<line x1="315.6" y1="375.5" x2="318" y2="375.5" stroke="#231f20" stroke-width="1"/>
<rect x="314" y="376.5" width="5.6" height="6.7" fill="#050505"/>
<line x1="324.5" y1="375.8" x2="324.5" y2="374.9" stroke="#231f20" stroke-width="1"/>
<line x1="322.9" y1="374.5" x2="325.3" y2="374.5" stroke="#231f20" stroke-width="1"/>
<rect x="321.7" y="376.2" width="4.8" height="7" fill="#3db54a" stroke="#231f20" stroke-width="0.8"/>
<line x1="331.5" y1="379" x2="331.5" y2="378.1" stroke="#231f20" stroke-width="1"/>
<line x1="330.6" y1="378.5" x2="333" y2="378.5" stroke="#231f20" stroke-width="1"/>
<rect x="329" y="379" width="5.6" height="4.2" fill="#050505"/>
<line x1="338.5" y1="379.4" x2="338.5" y2="378.5" stroke="#231f20" stroke-width="1"/>
<line x1="337.7" y1="378.5" x2="340.1" y2="378.5" stroke="#231f20" stroke-width="1"/>
<rect x="336.5" y="379.8" width="4.8" height="3.4" fill="#3db54a" stroke="#231f20" stroke-width="0.8"/>
<line x1="292.3" y1="387.5" x2="311.9" y2="387.5" stroke="#444" stroke-width="1"/>
<text x="302.1" y="397.4" font-size="7.3" text-anchor="middle">1</text>
<line x1="314.2" y1="387.5" x2="326.7" y2="387.5" stroke="#444" stroke-width="1"/>
<text x="320.45" y="397.4" font-size="7.3" text-anchor="middle">6</text>
<line x1="329.2" y1="387.5" x2="341.5" y2="387.5" stroke="#444" stroke-width="1"/>
<text x="335.35" y="397.4" font-size="7.3" text-anchor="middle">24</text>
<line x1="292.3" y1="401.5" x2="341.5" y2="401.5" stroke="#444" stroke-width="1"/>
<line x1="316.5" y1="383.2" x2="316.5" y2="385.6" stroke="#231f20" stroke-width="0.9"/>
<text x="316.9" y="410.3" font-size="7.4" text-anchor="middle">CLP</text>
<line x1="351.5" y1="367.9" x2="351.5" y2="363.7" stroke="#231f20" stroke-width="1"/>
<line x1="349.9" y1="363.5" x2="352.3" y2="363.5" stroke="#231f20" stroke-width="1"/>
<rect x="348.3" y="367.9" width="5.6" height="15.3" fill="#050505"/>
<line x1="358.5" y1="366.5" x2="358.5" y2="361.2" stroke="#231f20" stroke-width="1"/>
<line x1="357.2" y1="361.5" x2="359.6" y2="361.5" stroke="#231f20" stroke-width="1"/>
<rect x="356" y="366.9" width="4.8" height="16.3" fill="#3db54a" stroke="#231f20" stroke-width="0.8"/>
<line x1="366.5" y1="378.5" x2="366.5" y2="376.2" stroke="#231f20" stroke-width="1"/>
<line x1="364.9" y1="376.5" x2="367.3" y2="376.5" stroke="#231f20" stroke-width="1"/>
<rect x="363.7" y="378.9" width="4.8" height="4.3" fill="#c4122f" stroke="#231f20" stroke-width="0.8"/>
<line x1="373.5" y1="374.2" x2="373.5" y2="373.3" stroke="#231f20" stroke-width="1"/>
<line x1="372" y1="373.5" x2="374.4" y2="373.5" stroke="#231f20" stroke-width="1"/>
<rect x="370.4" y="374.2" width="5.6" height="9" fill="#050505"/>
<line x1="380.5" y1="374.9" x2="380.5" y2="374" stroke="#231f20" stroke-width="1"/>
<line x1="379.6" y1="373.5" x2="382" y2="373.5" stroke="#231f20" stroke-width="1"/>
<rect x="378.4" y="375.3" width="4.8" height="7.9" fill="#3db54a" stroke="#231f20" stroke-width="0.8"/>
<line x1="387.5" y1="377.4" x2="387.5" y2="376.5" stroke="#231f20" stroke-width="1"/>
<line x1="386.8" y1="376.5" x2="389.2" y2="376.5" stroke="#231f20" stroke-width="1"/>
<rect x="385.2" y="377.4" width="5.6" height="5.8" fill="#050505"/>
<line x1="395.5" y1="376.6" x2="395.5" y2="375.7" stroke="#231f20" stroke-width="1"/>
<line x1="394.4" y1="375.5" x2="396.8" y2="375.5" stroke="#231f20" stroke-width="1"/>
<rect x="393.2" y="377" width="4.8" height="6.2" fill="#3db54a" stroke="#231f20" stroke-width="0.8"/>
<line x1="348.5" y1="387.5" x2="368.7" y2="387.5" stroke="#444" stroke-width="1"/>
<text x="358.6" y="397.4" font-size="7.3" text-anchor="middle">1</text>
<line x1="370.6" y1="387.5" x2="383.4" y2="387.5" stroke="#444" stroke-width="1"/>
<text x="377" y="397.4" font-size="7.3" text-anchor="middle">6</text>
<line x1="385.4" y1="387.5" x2="398.2" y2="387.5" stroke="#444" stroke-width="1"/>
<text x="391.8" y="397.4" font-size="7.3" text-anchor="middle">24</text>
<line x1="348.5" y1="401.5" x2="398.2" y2="401.5" stroke="#444" stroke-width="1"/>
<line x1="373.5" y1="383.2" x2="373.5" y2="385.6" stroke="#231f20" stroke-width="0.9"/>
<text x="373.35" y="410.3" font-size="7.4" text-anchor="middle">Fr. A</text>
<line x1="407.5" y1="308.3" x2="407.5" y2="285" stroke="#231f20" stroke-width="1"/>
<line x1="406.4" y1="284.5" x2="408.8" y2="284.5" stroke="#231f20" stroke-width="1"/>
<rect x="404.8" y="308.3" width="5.6" height="74.9" fill="#050505"/>
<line x1="415.5" y1="320.3" x2="415.5" y2="295" stroke="#231f20" stroke-width="1"/>
<line x1="413.9" y1="294.5" x2="416.3" y2="294.5" stroke="#231f20" stroke-width="1"/>
<rect x="412.7" y="320.7" width="4.8" height="62.5" fill="#3db54a" stroke="#231f20" stroke-width="0.8"/>
<line x1="422.5" y1="370.2" x2="422.5" y2="362.2" stroke="#231f20" stroke-width="1"/>
<line x1="421.4" y1="362.5" x2="423.8" y2="362.5" stroke="#231f20" stroke-width="1"/>
<rect x="420.2" y="370.6" width="4.8" height="12.6" fill="#c4122f" stroke="#231f20" stroke-width="0.8"/>
<line x1="429.5" y1="366.2" x2="429.5" y2="355.2" stroke="#231f20" stroke-width="1"/>
<line x1="428.7" y1="355.5" x2="431.1" y2="355.5" stroke="#231f20" stroke-width="1"/>
<rect x="427.1" y="366.2" width="5.6" height="17" fill="#050505"/>
<line x1="437.5" y1="375.4" x2="437.5" y2="374.5" stroke="#231f20" stroke-width="1"/>
<line x1="435.9" y1="374.5" x2="438.3" y2="374.5" stroke="#231f20" stroke-width="1"/>
<rect x="434.7" y="375.8" width="4.8" height="7.4" fill="#3db54a" stroke="#231f20" stroke-width="0.8"/>
<line x1="444.5" y1="367.2" x2="444.5" y2="361.4" stroke="#231f20" stroke-width="1"/>
<line x1="443.4" y1="361.5" x2="445.8" y2="361.5" stroke="#231f20" stroke-width="1"/>
<rect x="441.8" y="367.2" width="5.6" height="16" fill="#050505"/>
<line x1="451.5" y1="378" x2="451.5" y2="376.5" stroke="#231f20" stroke-width="1"/>
<line x1="450.8" y1="376.5" x2="453.2" y2="376.5" stroke="#231f20" stroke-width="1"/>
<rect x="449.6" y="378.4" width="4.8" height="4.8" fill="#3db54a" stroke="#231f20" stroke-width="0.8"/>
<line x1="405" y1="387.5" x2="425.2" y2="387.5" stroke="#444" stroke-width="1"/>
<text x="415.1" y="397.4" font-size="7.3" text-anchor="middle">1</text>
<line x1="427.3" y1="387.5" x2="439.7" y2="387.5" stroke="#444" stroke-width="1"/>
<text x="433.5" y="397.4" font-size="7.3" text-anchor="middle">6</text>
<line x1="442" y1="387.5" x2="454.6" y2="387.5" stroke="#444" stroke-width="1"/>
<text x="448.3" y="397.4" font-size="7.3" text-anchor="middle">24</text>
<line x1="405" y1="401.5" x2="454.6" y2="401.5" stroke="#444" stroke-width="1"/>
<line x1="429.5" y1="383.2" x2="429.5" y2="385.6" stroke="#231f20" stroke-width="0.9"/>
<text x="429.8" y="410.3" font-size="7.4" text-anchor="middle">Fr. B&amp;C</text>
<line x1="463.5" y1="305.7" x2="463.5" y2="285.7" stroke="#231f20" stroke-width="1"/>
<line x1="462.8" y1="285.5" x2="465.2" y2="285.5" stroke="#231f20" stroke-width="1"/>
<rect x="461.2" y="305.7" width="5.6" height="77.5" fill="#050505"/>
<line x1="472.5" y1="325.3" x2="472.5" y2="307.6" stroke="#231f20" stroke-width="1"/>
<line x1="470.9" y1="307.5" x2="473.3" y2="307.5" stroke="#231f20" stroke-width="1"/>
<rect x="469.7" y="325.7" width="4.8" height="57.5" fill="#3db54a" stroke="#231f20" stroke-width="0.8"/>
<line x1="478.5" y1="370.7" x2="478.5" y2="364.5" stroke="#231f20" stroke-width="1"/>
<line x1="477.8" y1="364.5" x2="480.2" y2="364.5" stroke="#231f20" stroke-width="1"/>
<rect x="476.6" y="371.1" width="4.8" height="12.1" fill="#c4122f" stroke="#231f20" stroke-width="0.8"/>
<line x1="485.5" y1="359.2" x2="485.5" y2="347.7" stroke="#231f20" stroke-width="1"/>
<line x1="484.7" y1="347.5" x2="487.1" y2="347.5" stroke="#231f20" stroke-width="1"/>
<rect x="483.1" y="359.2" width="5.6" height="24" fill="#050505"/>
<line x1="493.5" y1="369.1" x2="493.5" y2="368.2" stroke="#231f20" stroke-width="1"/>
<line x1="492.6" y1="368.5" x2="495" y2="368.5" stroke="#231f20" stroke-width="1"/>
<rect x="491.4" y="369.5" width="4.8" height="13.7" fill="#3db54a" stroke="#231f20" stroke-width="0.8"/>
<line x1="500.5" y1="364.5" x2="500.5" y2="356.5" stroke="#231f20" stroke-width="1"/>
<line x1="499.7" y1="356.5" x2="502.1" y2="356.5" stroke="#231f20" stroke-width="1"/>
<rect x="498.1" y="364.5" width="5.6" height="18.7" fill="#050505"/>
<line x1="508.5" y1="377.7" x2="508.5" y2="376.3" stroke="#231f20" stroke-width="1"/>
<line x1="507.4" y1="376.5" x2="509.8" y2="376.5" stroke="#231f20" stroke-width="1"/>
<rect x="506.2" y="378.1" width="4.8" height="5.1" fill="#3db54a" stroke="#231f20" stroke-width="0.8"/>
<line x1="461.4" y1="387.5" x2="481.6" y2="387.5" stroke="#444" stroke-width="1"/>
<text x="471.5" y="397.4" font-size="7.3" text-anchor="middle">1</text>
<line x1="483.3" y1="387.5" x2="496.4" y2="387.5" stroke="#444" stroke-width="1"/>
<text x="489.85" y="397.4" font-size="7.3" text-anchor="middle">6</text>
<line x1="498.3" y1="387.5" x2="511.2" y2="387.5" stroke="#444" stroke-width="1"/>
<text x="504.75" y="397.4" font-size="7.3" text-anchor="middle">24</text>
<line x1="461.4" y1="401.5" x2="511.2" y2="401.5" stroke="#444" stroke-width="1"/>
<line x1="485.5" y1="383.2" x2="485.5" y2="385.6" stroke="#231f20" stroke-width="0.9"/>
<text x="486.3" y="410.3" font-size="7.4" text-anchor="middle" font-weight="bold">Fr. C'</text>
<line x1="406.3" y1="282.5" x2="423" y2="282.5" stroke="#231f20" stroke-width="1"/>
<text x="414.6" y="283" font-size="8.7" text-anchor="middle" textLength="3.35" lengthAdjust="spacingAndGlyphs">*</text>
<line x1="463" y1="283.5" x2="479.2" y2="283.5" stroke="#231f20" stroke-width="1"/>
<text x="471.6" y="284" font-size="8.7" text-anchor="middle" textLength="3.35" lengthAdjust="spacingAndGlyphs">*</text>
<line x1="498.8" y1="349.5" x2="510.3" y2="349.5" stroke="#231f20" stroke-width="1"/>
<text x="505.2" y="350.4" font-size="8.7" text-anchor="middle" textLength="6.7" lengthAdjust="spacingAndGlyphs">**</text>
<text class="c" x="270.2" y="330.9" font-size="8.4" text-anchor="middle" transform="rotate(-90 270.2 330.9)" textLength="32.3" lengthAdjust="spacingAndGlyphs">Cell # x10<tspan font-size="5.6" dy="-3.4">4</tspan></text>
<text x="6.7" y="438.3" font-size="10.4" font-weight="bold" class="pl">D</text>
<text x="31.7" y="449.4" font-size="8.6" textLength="60.6" lengthAdjust="spacingAndGlyphs">WT or QT spleen</text>
<g transform="translate(44.6 454.6) scale(1 1)"><path d="M3.5,1.2 C8.5,-1.4 16,1.2 21.5,6 C26.5,10 28.5,14.5 26,16.8 C23.5,18.8 19.5,17 15.5,13.6 C12,10.8 8,9.6 4,8.6 C0.2,7.6 -0.8,3.4 3.5,1.2 Z" fill="url(#sg1)" stroke="#231f20" stroke-width="1"/></g>
<line x1="74.6" y1="463.5" x2="85.7" y2="463.5" stroke="#231f20" stroke-width="1.2"/>
<polygon points="92.5,463.4 84.5,466.2 86.5,463.4 84.5,460.6" fill="#231f20"/>
<path d="M95.8,461.2 L95.8,464.8 A14,4.7 0 0 0 123.8,464.8 L123.8,461.2" fill="#fff" stroke="#231f20" stroke-width="1.1"/>
<ellipse cx="109.8" cy="461.2" rx="14" ry="4.7" fill="#fff" stroke="#231f20" stroke-width="1.1"/>
<ellipse cx="110.1" cy="462.5" rx="12.7" ry="3.2" fill="none" stroke="#231f20" stroke-width="0.9"/>
<line x1="126.2" y1="463.5" x2="143.6" y2="463.5" stroke="#231f20" stroke-width="1.2"/>
<polygon points="150.4,463.4 142.4,466.2 144.4,463.4 142.4,460.6" fill="#231f20"/>
<text x="127.7" y="443" font-size="8.6" textLength="14.5" lengthAdjust="spacingAndGlyphs">O/N</text>
<text x="127.7" y="453" font-size="8.6" textLength="18" lengthAdjust="spacingAndGlyphs">37°C</text>
<text x="154" y="467.4" font-size="8.6" textLength="27" lengthAdjust="spacingAndGlyphs">Viability</text>
<line x1="109.5" y1="484.6" x2="109.5" y2="478" stroke="#231f20" stroke-width="1.2"/>
<polygon points="109.8,471.2 112.6,479.2 109.8,477.2 107,479.2" fill="#231f20"/>
<text x="90.6" y="491.4" font-size="8.6" textLength="34" lengthAdjust="spacingAndGlyphs">Treatment</text>
<text x="218.6" y="437.8" font-size="10.4" font-weight="bold" class="pl">E</text>
<text x="233" y="449.2" font-size="8.6" textLength="60.7" lengthAdjust="spacingAndGlyphs">WT or QT spleen</text>
<g transform="translate(240.2 453.2) scale(1 1)"><path d="M3.5,1.2 C8.5,-1.4 16,1.2 21.5,6 C26.5,10 28.5,14.5 26,16.8 C23.5,18.8 19.5,17 15.5,13.6 C12,10.8 8,9.6 4,8.6 C0.2,7.6 -0.8,3.4 3.5,1.2 Z" fill="url(#sg2)" stroke="#231f20" stroke-width="1"/></g>
<text x="268.6" y="459.6" font-size="6.2" textLength="16.6" lengthAdjust="spacingAndGlyphs" fill="#4bbb58">CFSE</text>
<line x1="270" y1="462.5" x2="287.2" y2="462.5" stroke="#231f20" stroke-width="1.2"/>
<polygon points="294,462.3 286,465.1 288,462.3 286,459.5" fill="#231f20"/>
<path d="M297.4,460.7 L297.4,464.3 A14,4.7 0 0 0 325.4,464.3 L325.4,460.7" fill="#fff" stroke="#231f20" stroke-width="1.1"/>
<ellipse cx="311.4" cy="467.7" rx="5" ry="1" fill="#999"/>
<ellipse cx="311.4" cy="460.7" rx="14" ry="4.7" fill="#fff" stroke="#231f20" stroke-width="1.1"/>
<ellipse cx="311.7" cy="462" rx="12.7" ry="3.2" fill="none" stroke="#231f20" stroke-width="0.9"/>
<line x1="327.8" y1="462.5" x2="343.9" y2="462.5" stroke="#231f20" stroke-width="1.2"/>
<polygon points="350.7,462.3 342.7,465.1 344.7,462.3 342.7,459.5" fill="#231f20"/>
<text x="328.1" y="443" font-size="8.6" textLength="22.6" lengthAdjust="spacingAndGlyphs">4 days</text>
<text x="328.1" y="452.2" font-size="8.6" textLength="18" lengthAdjust="spacingAndGlyphs">37°C</text>
<text x="355.3" y="456.4" font-size="8.6" textLength="52.9" lengthAdjust="spacingAndGlyphs">Flow cytometry</text>
<text x="355.3" y="465.6" font-size="8.6" textLength="41" lengthAdjust="spacingAndGlyphs">Proliferation</text>
<text x="355.3" y="476" font-size="8.6" textLength="39.6" lengthAdjust="spacingAndGlyphs">IgG1<tspan font-size="6" dy="-3.2">+</tspan><tspan dy="3.2"> cells</tspan></text>
<line x1="310.5" y1="484.6" x2="310.5" y2="479.7" stroke="#231f20" stroke-width="1.2"/>
<polygon points="310.3,472.9 313.1,480.9 310.3,478.9 307.5,480.9" fill="#231f20"/>
<text x="294.6" y="493.8" font-size="8.6" textLength="35.4" lengthAdjust="spacingAndGlyphs">LPS + IL4</text>
<text x="11.9" y="508.1" font-size="10.4" font-weight="bold" class="pl">F</text>
<line x1="32.5" y1="513.2" x2="32.5" y2="606.3" stroke="#231f20" stroke-width="1"/>
<line x1="29" y1="606.5" x2="32.3" y2="606.5" stroke="#231f20" stroke-width="1"/>
<text x="26.2" y="608.64" font-size="7.9" text-anchor="end" fill="#333">0</text>
<line x1="29" y1="575.5" x2="32.3" y2="575.5" stroke="#231f20" stroke-width="1"/>
<text x="26.2" y="577.81" font-size="7.9" text-anchor="end" fill="#333">10</text>
<line x1="29" y1="544.5" x2="32.3" y2="544.5" stroke="#231f20" stroke-width="1"/>
<text x="26.2" y="546.98" font-size="7.9" text-anchor="end" fill="#333">20</text>
<line x1="29" y1="513.5" x2="32.3" y2="513.5" stroke="#231f20" stroke-width="1"/>
<text x="26.2" y="516.15" font-size="7.9" text-anchor="end" fill="#333">30</text>
<line x1="32.3" y1="606.5" x2="155.4" y2="606.5" stroke="#231f20" stroke-width="1"/>
<line x1="42.5" y1="529.2" x2="42.5" y2="524.2" stroke="#231f20" stroke-width="1"/>
<line x1="39.9" y1="524.5" x2="44.4" y2="524.5" stroke="#231f20" stroke-width="1"/>
<rect x="38.1" y="529.2" width="8.1" height="77.1" fill="#231f20"/>
<rect x="50.98" y="552.88" width="6.15" height="53.42" fill="#e4252b" stroke="#231f20" stroke-width="1.15"/>
<rect x="69.2" y="603.7" width="7.7" height="2.6" fill="#231f20"/>
<rect x="81.38" y="601.38" width="6.05" height="4.92" fill="#e4252b" stroke="#231f20" stroke-width="1.15"/>
<line x1="103.5" y1="578.9" x2="103.5" y2="575.9" stroke="#231f20" stroke-width="1"/>
<line x1="101.3" y1="575.5" x2="105.8" y2="575.5" stroke="#231f20" stroke-width="1"/>
<rect x="99.2" y="578.9" width="8.7" height="27.4" fill="#231f20"/>
<rect x="111.78" y="571.58" width="6.55" height="34.72" fill="#e4252b" stroke="#231f20" stroke-width="1.15"/>
<line x1="134.5" y1="587" x2="134.5" y2="584.2" stroke="#231f20" stroke-width="1"/>
<line x1="131.9" y1="584.5" x2="136.4" y2="584.5" stroke="#231f20" stroke-width="1"/>
<rect x="130" y="587" width="8.3" height="19.3" fill="#231f20"/>
<rect x="142.17" y="574.28" width="6.75" height="32.02" fill="#e4252b" stroke="#231f20" stroke-width="1.15"/>
<line x1="47.5" y1="606.3" x2="47.5" y2="608.9" stroke="#231f20" stroke-width="0.9"/>
<text x="51.2" y="616" font-size="7.6" text-anchor="end" transform="rotate(-45 51.2 616)">NT</text>
<line x1="78.5" y1="606.3" x2="78.5" y2="608.9" stroke="#231f20" stroke-width="0.9"/>
<text x="81.7" y="616" font-size="7.6" text-anchor="end" transform="rotate(-45 81.7 616)">Irr 2 Gy</text>
<line x1="109.5" y1="606.3" x2="109.5" y2="608.9" stroke="#231f20" stroke-width="0.9"/>
<text x="111" y="616" font-size="7.6" text-anchor="end" transform="rotate(-45 111 616)">HS 10 mins</text>
<line x1="140.5" y1="606.3" x2="140.5" y2="608.9" stroke="#231f20" stroke-width="0.9"/>
<text x="142.1" y="616" font-size="7.6" text-anchor="end" transform="rotate(-45 142.1 616)">Dex 0.1 nM</text>
<rect x="121.4" y="518.3" width="13.2" height="7.6" fill="#231f20" stroke="#231f20" stroke-width="0.8"/>
<rect x="121.4" y="536.3" width="13.2" height="7.2" fill="#e4252b" stroke="#231f20" stroke-width="0.8"/>
<text x="138.3" y="525.6" font-size="8.6" textLength="12.4" lengthAdjust="spacingAndGlyphs">WT</text>
<text x="138.3" y="543.4" font-size="8.6" textLength="11.6" lengthAdjust="spacingAndGlyphs">QT</text>
<text x="13.6" y="560" font-size="8.4" text-anchor="middle" textLength="54" lengthAdjust="spacingAndGlyphs" transform="rotate(-90 13.6 560)" class="c">% surviving B-cells</text>
<text x="160.9" y="508" font-size="10.6" font-weight="bold" class="pl">G</text>
<line x1="180.5" y1="523.9" x2="180.5" y2="606.4" stroke="#231f20" stroke-width="1"/>
<line x1="177.3" y1="606.5" x2="180.6" y2="606.5" stroke="#231f20" stroke-width="1"/>
<text x="174.5" y="608.84" font-size="7.9" text-anchor="end" fill="#333">0</text>
<line x1="177.3" y1="585.5" x2="180.6" y2="585.5" stroke="#231f20" stroke-width="1"/>
<text x="174.5" y="588.34" font-size="7.9" text-anchor="end" fill="#333">1</text>
<line x1="177.3" y1="565.5" x2="180.6" y2="565.5" stroke="#231f20" stroke-width="1"/>
<text x="174.5" y="567.84" font-size="7.9" text-anchor="end" fill="#333">2</text>
<line x1="177.3" y1="544.5" x2="180.6" y2="544.5" stroke="#231f20" stroke-width="1"/>
<text x="174.5" y="547.34" font-size="7.9" text-anchor="end" fill="#333">3</text>
<line x1="177.3" y1="524.5" x2="180.6" y2="524.5" stroke="#231f20" stroke-width="1"/>
<text x="174.5" y="526.84" font-size="7.9" text-anchor="end" fill="#333">4</text>
<line x1="180.6" y1="606.5" x2="223" y2="606.5" stroke="#231f20" stroke-width="1"/>
<line x1="191.5" y1="541.4" x2="191.5" y2="539.4" stroke="#231f20" stroke-width="1"/>
<line x1="188.8" y1="539.5" x2="194.8" y2="539.5" stroke="#231f20" stroke-width="1"/>
<rect x="184.6" y="541.4" width="14.4" height="65" fill="#231f20"/>
<line x1="212.5" y1="544.6" x2="212.5" y2="543.4" stroke="#231f20" stroke-width="1"/>
<line x1="209.8" y1="543.5" x2="215.8" y2="543.5" stroke="#231f20" stroke-width="1"/>
<rect x="206.17" y="545.18" width="13.25" height="61.22" fill="#e4252b" stroke="#231f20" stroke-width="1.15"/>
<line x1="191.5" y1="606.4" x2="191.5" y2="609" stroke="#231f20" stroke-width="0.9"/>
<text x="192" y="619" font-size="8" text-anchor="middle">WT</text>
<line x1="212.5" y1="606.4" x2="212.5" y2="609" stroke="#231f20" stroke-width="0.9"/>
<text x="213" y="619" font-size="8" text-anchor="middle">QT</text>
<text x="166.5" y="570" font-size="8.4" text-anchor="middle" textLength="51.7" lengthAdjust="spacingAndGlyphs" transform="rotate(-90 166.5 570)" class="c">Proliferation Index</text>
<text x="227.5" y="508.7" font-size="10.4" font-weight="bold" class="pl">H</text>
<line x1="252.5" y1="514.5" x2="252.5" y2="606.3" stroke="#231f20" stroke-width="1"/>
<line x1="249.2" y1="606.5" x2="252.5" y2="606.5" stroke="#231f20" stroke-width="1"/>
<text x="246.4" y="608.64" font-size="7.9" text-anchor="end" fill="#333">0</text>
<line x1="249.2" y1="583.5" x2="252.5" y2="583.5" stroke="#231f20" stroke-width="1"/>
<text x="246.4" y="585.84" font-size="7.9" text-anchor="end" fill="#333">10</text>
<line x1="249.2" y1="560.5" x2="252.5" y2="560.5" stroke="#231f20" stroke-width="1"/>
<text x="246.4" y="563.04" font-size="7.9" text-anchor="end" fill="#333">20</text>
<line x1="249.2" y1="537.5" x2="252.5" y2="537.5" stroke="#231f20" stroke-width="1"/>
<text x="246.4" y="540.24" font-size="7.9" text-anchor="end" fill="#333">30</text>
<line x1="249.2" y1="514.5" x2="252.5" y2="514.5" stroke="#231f20" stroke-width="1"/>
<text x="246.4" y="517.44" font-size="7.9" text-anchor="end" fill="#333">40</text>
<line x1="252.5" y1="606.5" x2="366.9" y2="606.5" stroke="#231f20" stroke-width="1"/>
<line x1="259.5" y1="606.3" x2="259.5" y2="608.9" stroke="#231f20" stroke-width="0.9"/>
<text x="259.5" y="618.4" font-size="7.4" text-anchor="middle">0</text>
<line x1="273.5" y1="606.3" x2="273.5" y2="608.9" stroke="#231f20" stroke-width="0.9"/>
<text x="273.7" y="618.4" font-size="7.4" text-anchor="middle">1</text>
<line x1="287.5" y1="606.3" x2="287.5" y2="608.9" stroke="#231f20" stroke-width="0.9"/>
<text x="287.9" y="618.4" font-size="7.4" text-anchor="middle">2</text>
<line x1="302.5" y1="606.3" x2="302.5" y2="608.9" stroke="#231f20" stroke-width="0.9"/>
<text x="302.1" y="618.4" font-size="7.4" text-anchor="middle">3</text>
<line x1="316.5" y1="606.3" x2="316.5" y2="608.9" stroke="#231f20" stroke-width="0.9"/>
<text x="316.3" y="618.4" font-size="7.4" text-anchor="middle">4</text>
<line x1="330.5" y1="606.3" x2="330.5" y2="608.9" stroke="#231f20" stroke-width="0.9"/>
<text x="330.5" y="618.4" font-size="7.4" text-anchor="middle">5</text>
<line x1="344.5" y1="606.3" x2="344.5" y2="608.9" stroke="#231f20" stroke-width="0.9"/>
<text x="344.7" y="618.4" font-size="7.4" text-anchor="middle">6</text>
<line x1="358.5" y1="606.3" x2="358.5" y2="608.9" stroke="#231f20" stroke-width="0.9"/>
<text x="358.9" y="618.4" font-size="7.4" text-anchor="middle">7</text>
<line x1="259.5" y1="588" x2="259.5" y2="605" stroke="#e4252b" stroke-width="0.9"/>
<line x1="257.9" y1="587.5" x2="261.1" y2="587.5" stroke="#e4252b" stroke-width="0.9"/>
<line x1="257.9" y1="604.5" x2="261.1" y2="604.5" stroke="#e4252b" stroke-width="0.9"/>
<line x1="273.5" y1="578" x2="273.5" y2="601.5" stroke="#e4252b" stroke-width="0.9"/>
<line x1="272.1" y1="577.5" x2="275.3" y2="577.5" stroke="#e4252b" stroke-width="0.9"/>
<line x1="272.1" y1="601.5" x2="275.3" y2="601.5" stroke="#e4252b" stroke-width="0.9"/>
<line x1="287.5" y1="562.6" x2="287.5" y2="594" stroke="#e4252b" stroke-width="0.9"/>
<line x1="286.3" y1="562.5" x2="289.5" y2="562.5" stroke="#e4252b" stroke-width="0.9"/>
<line x1="286.3" y1="593.5" x2="289.5" y2="593.5" stroke="#e4252b" stroke-width="0.9"/>
<line x1="302.5" y1="554.8" x2="302.5" y2="586.2" stroke="#e4252b" stroke-width="0.9"/>
<line x1="300.5" y1="554.5" x2="303.7" y2="554.5" stroke="#e4252b" stroke-width="0.9"/>
<line x1="300.5" y1="586.5" x2="303.7" y2="586.5" stroke="#e4252b" stroke-width="0.9"/>
<line x1="316.5" y1="545.2" x2="316.5" y2="574" stroke="#e4252b" stroke-width="0.9"/>
<line x1="314.7" y1="545.5" x2="317.9" y2="545.5" stroke="#e4252b" stroke-width="0.9"/>
<line x1="314.7" y1="573.5" x2="317.9" y2="573.5" stroke="#e4252b" stroke-width="0.9"/>
<line x1="330.5" y1="543.8" x2="330.5" y2="574.6" stroke="#e4252b" stroke-width="0.9"/>
<line x1="328.9" y1="543.5" x2="332.1" y2="543.5" stroke="#e4252b" stroke-width="0.9"/>
<line x1="328.9" y1="574.5" x2="332.1" y2="574.5" stroke="#e4252b" stroke-width="0.9"/>
<line x1="344.5" y1="546.5" x2="344.5" y2="574.6" stroke="#e4252b" stroke-width="0.9"/>
<line x1="343.1" y1="546.5" x2="346.3" y2="546.5" stroke="#e4252b" stroke-width="0.9"/>
<line x1="343.1" y1="574.5" x2="346.3" y2="574.5" stroke="#e4252b" stroke-width="0.9"/>
<line x1="358.5" y1="533.3" x2="358.5" y2="561.2" stroke="#e4252b" stroke-width="0.9"/>
<line x1="357.3" y1="533.5" x2="360.5" y2="533.5" stroke="#e4252b" stroke-width="0.9"/>
<line x1="357.3" y1="561.5" x2="360.5" y2="561.5" stroke="#e4252b" stroke-width="0.9"/>
<line x1="259.5" y1="590" x2="259.5" y2="600" stroke="#231f20" stroke-width="0.9"/>
<line x1="257.9" y1="589.5" x2="261.1" y2="589.5" stroke="#231f20" stroke-width="0.9"/>
<line x1="257.9" y1="599.5" x2="261.1" y2="599.5" stroke="#231f20" stroke-width="0.9"/>
<line x1="273.5" y1="581" x2="273.5" y2="595" stroke="#231f20" stroke-width="0.9"/>
<line x1="272.1" y1="580.5" x2="275.3" y2="580.5" stroke="#231f20" stroke-width="0.9"/>
<line x1="272.1" y1="594.5" x2="275.3" y2="594.5" stroke="#231f20" stroke-width="0.9"/>
<line x1="287.5" y1="575" x2="287.5" y2="589" stroke="#231f20" stroke-width="0.9"/>
<line x1="286.3" y1="574.5" x2="289.5" y2="574.5" stroke="#231f20" stroke-width="0.9"/>
<line x1="286.3" y1="588.5" x2="289.5" y2="588.5" stroke="#231f20" stroke-width="0.9"/>
<line x1="302.5" y1="569" x2="302.5" y2="581.7" stroke="#231f20" stroke-width="0.9"/>
<line x1="300.5" y1="568.5" x2="303.7" y2="568.5" stroke="#231f20" stroke-width="0.9"/>
<line x1="300.5" y1="581.5" x2="303.7" y2="581.5" stroke="#231f20" stroke-width="0.9"/>
<line x1="316.5" y1="559.6" x2="316.5" y2="573" stroke="#231f20" stroke-width="0.9"/>
<line x1="314.7" y1="559.5" x2="317.9" y2="559.5" stroke="#231f20" stroke-width="0.9"/>
<line x1="314.7" y1="572.5" x2="317.9" y2="572.5" stroke="#231f20" stroke-width="0.9"/>
<line x1="330.5" y1="551.5" x2="330.5" y2="567.7" stroke="#231f20" stroke-width="0.9"/>
<line x1="328.9" y1="551.5" x2="332.1" y2="551.5" stroke="#231f20" stroke-width="0.9"/>
<line x1="328.9" y1="567.5" x2="332.1" y2="567.5" stroke="#231f20" stroke-width="0.9"/>
<line x1="344.5" y1="555.8" x2="344.5" y2="569.6" stroke="#231f20" stroke-width="0.9"/>
<line x1="343.1" y1="555.5" x2="346.3" y2="555.5" stroke="#231f20" stroke-width="0.9"/>
<line x1="343.1" y1="569.5" x2="346.3" y2="569.5" stroke="#231f20" stroke-width="0.9"/>
<line x1="358.5" y1="551.5" x2="358.5" y2="568.3" stroke="#231f20" stroke-width="0.9"/>
<line x1="357.3" y1="551.5" x2="360.5" y2="551.5" stroke="#231f20" stroke-width="0.9"/>
<line x1="357.3" y1="568.5" x2="360.5" y2="568.5" stroke="#231f20" stroke-width="0.9"/>
<polyline points="259.5,597 273.7,589.5 287.9,578.5 302.1,570.2 316.3,559.2 330.5,559.6 344.7,561.2 358.9,547.1" fill="none" stroke="#e4252b" stroke-width="1.6"/>
<rect x="257.7" y="595.2" width="3.6" height="3.6" fill="#e4252b"/>
<rect x="271.9" y="587.7" width="3.6" height="3.6" fill="#e4252b"/>
<rect x="286.1" y="576.7" width="3.6" height="3.6" fill="#e4252b"/>
<rect x="300.3" y="568.4" width="3.6" height="3.6" fill="#e4252b"/>
<rect x="314.5" y="557.4" width="3.6" height="3.6" fill="#e4252b"/>
<rect x="328.7" y="557.8" width="3.6" height="3.6" fill="#e4252b"/>
<rect x="342.9" y="559.4" width="3.6" height="3.6" fill="#e4252b"/>
<rect x="357.1" y="545.3" width="3.6" height="3.6" fill="#e4252b"/>
<polyline points="259.5,595 273.7,588 287.9,582 302.1,575.4 316.3,566.3 330.5,559.6 344.7,562.5 358.9,560.2" fill="none" stroke="#231f20" stroke-width="1.6"/>
<circle cx="259.5" cy="595" r="2" fill="#231f20"/>
<circle cx="273.7" cy="588" r="2" fill="#231f20"/>
<circle cx="287.9" cy="582" r="2" fill="#231f20"/>
<circle cx="302.1" cy="575.4" r="2" fill="#231f20"/>
<circle cx="316.3" cy="566.3" r="2" fill="#231f20"/>
<circle cx="330.5" cy="559.6" r="2" fill="#231f20"/>
<circle cx="344.7" cy="562.5" r="2" fill="#231f20"/>
<circle cx="358.9" cy="560.2" r="2" fill="#231f20"/>
<circle cx="264.6" cy="530" r="3.2" fill="#231f20"/>
<rect x="261.5" y="536.5" width="6.2" height="6.2" fill="#e4252b"/>
<text x="271.3" y="532.9" font-size="8" textLength="11.5" lengthAdjust="spacingAndGlyphs">WT</text>
<text x="271.3" y="542.8" font-size="8" textLength="10.5" lengthAdjust="spacingAndGlyphs">QT</text>
<text x="309.5" y="627.7" font-size="8.2" text-anchor="middle" textLength="29.4" lengthAdjust="spacingAndGlyphs" class="c">Generation</text>
<text class="c" x="233" y="560.5" font-size="8.2" text-anchor="middle" transform="rotate(-90 233 560.5)" textLength="45" lengthAdjust="spacingAndGlyphs">% IgG1<tspan font-size="5.4" dy="-3.2">+</tspan><tspan dy="3.2"> B-cells</tspan></text>
<text x="368.3" y="507.7" font-size="10.4" font-weight="bold" class="pl">I</text>
<line x1="392.5" y1="522.8" x2="392.5" y2="606.4" stroke="#231f20" stroke-width="1"/>
<line x1="389.1" y1="606.5" x2="392.3" y2="606.5" stroke="#231f20" stroke-width="1"/>
<text x="386.7" y="608.66" font-size="7.4" text-anchor="end" fill="#333">0</text>
<line x1="389.1" y1="578.5" x2="392.3" y2="578.5" stroke="#231f20" stroke-width="1"/>
<text x="386.7" y="580.86" font-size="7.4" text-anchor="end" fill="#333">2</text>
<line x1="389.1" y1="550.5" x2="392.3" y2="550.5" stroke="#231f20" stroke-width="1"/>
<text x="386.7" y="553.06" font-size="7.4" text-anchor="end" fill="#333">4</text>
<line x1="389.1" y1="522.5" x2="392.3" y2="522.5" stroke="#231f20" stroke-width="1"/>
<text x="386.7" y="525.26" font-size="7.4" text-anchor="end" fill="#333">6</text>
<line x1="392.3" y1="606.5" x2="437" y2="606.5" stroke="#231f20" stroke-width="1"/>
<line x1="403.5" y1="551.9" x2="403.5" y2="544.2" stroke="#231f20" stroke-width="1"/>
<line x1="400.5" y1="544.5" x2="407.5" y2="544.5" stroke="#231f20" stroke-width="1"/>
<rect x="396.3" y="551.9" width="15.4" height="54.5" fill="#231f20"/>
<line x1="427.5" y1="538" x2="427.5" y2="529.5" stroke="#231f20" stroke-width="1"/>
<line x1="423.6" y1="529.5" x2="430.6" y2="529.5" stroke="#231f20" stroke-width="1"/>
<rect x="419.97" y="538.58" width="14.25" height="67.82" fill="#e4252b" stroke="#231f20" stroke-width="1.15"/>
<line x1="403.5" y1="606.4" x2="403.5" y2="609" stroke="#231f20" stroke-width="0.9"/>
<text x="404" y="618.2" font-size="8.2" text-anchor="middle">WT</text>
<line x1="427.5" y1="606.4" x2="427.5" y2="609" stroke="#231f20" stroke-width="0.9"/>
<text x="427.1" y="618.2" font-size="8.2" text-anchor="middle">QT</text>
<text x="416" y="521.6" font-size="8.6" text-anchor="middle">IgG</text>
<text x="376.4" y="565.3" font-size="7.8" text-anchor="middle" textLength="65.7" lengthAdjust="spacingAndGlyphs" transform="rotate(-90 376.4 565.3)" class="c">Concentration (mg/mL)</text>
<line x1="466.5" y1="523.7" x2="466.5" y2="606.4" stroke="#231f20" stroke-width="1"/>
<line x1="463" y1="606.5" x2="466.2" y2="606.5" stroke="#231f20" stroke-width="1"/>
<text x="460.8" y="608.66" font-size="7.4" text-anchor="end" fill="#333">0</text>
<line x1="463" y1="585.5" x2="466.2" y2="585.5" stroke="#231f20" stroke-width="1"/>
<text x="460.8" y="588.11" font-size="7.4" text-anchor="end" fill="#333">0.1</text>
<line x1="463" y1="565.5" x2="466.2" y2="565.5" stroke="#231f20" stroke-width="1"/>
<text x="460.8" y="567.56" font-size="7.4" text-anchor="end" fill="#333">0.2</text>
<line x1="463" y1="544.5" x2="466.2" y2="544.5" stroke="#231f20" stroke-width="1"/>
<text x="460.8" y="547.01" font-size="7.4" text-anchor="end" fill="#333">0.3</text>
<line x1="463" y1="524.5" x2="466.2" y2="524.5" stroke="#231f20" stroke-width="1"/>
<text x="460.8" y="526.46" font-size="7.4" text-anchor="end" fill="#333">0.4</text>
<line x1="466.2" y1="606.5" x2="510.8" y2="606.5" stroke="#231f20" stroke-width="1"/>
<line x1="477.5" y1="552.8" x2="477.5" y2="541.2" stroke="#231f20" stroke-width="1"/>
<line x1="474.35" y1="541.5" x2="481.35" y2="541.5" stroke="#231f20" stroke-width="1"/>
<rect x="470.2" y="552.8" width="15.3" height="53.6" fill="#231f20"/>
<line x1="500.5" y1="556.5" x2="500.5" y2="545.8" stroke="#231f20" stroke-width="1"/>
<line x1="497.1" y1="545.5" x2="504.1" y2="545.5" stroke="#231f20" stroke-width="1"/>
<rect x="493.47" y="557.08" width="14.25" height="49.32" fill="#e4252b" stroke="#231f20" stroke-width="1.15"/>
<line x1="477.5" y1="606.4" x2="477.5" y2="609" stroke="#231f20" stroke-width="0.9"/>
<text x="477.8" y="618.2" font-size="8.2" text-anchor="middle">WT</text>
<line x1="500.5" y1="606.4" x2="500.5" y2="609" stroke="#231f20" stroke-width="0.9"/>
<text x="500.6" y="618.2" font-size="8.2" text-anchor="middle">QT</text>
<text x="490.8" y="522" font-size="8.6" text-anchor="middle">IgM</text>
<text x="447.4" y="565.3" font-size="7.8" text-anchor="middle" textLength="65.7" lengthAdjust="spacingAndGlyphs" transform="rotate(-90 447.4 565.3)" class="c">Concentration (mg/mL)</text>
</g>
<rect x="0.5" y="0.5" width="519" height="650" fill="none" stroke="#000" stroke-width="1"/>
<rect x="1.5" y="1.5" width="517" height="648" fill="none" stroke="#000" stroke-opacity="0.38" stroke-width="1"/>
</svg>
</body></html>
